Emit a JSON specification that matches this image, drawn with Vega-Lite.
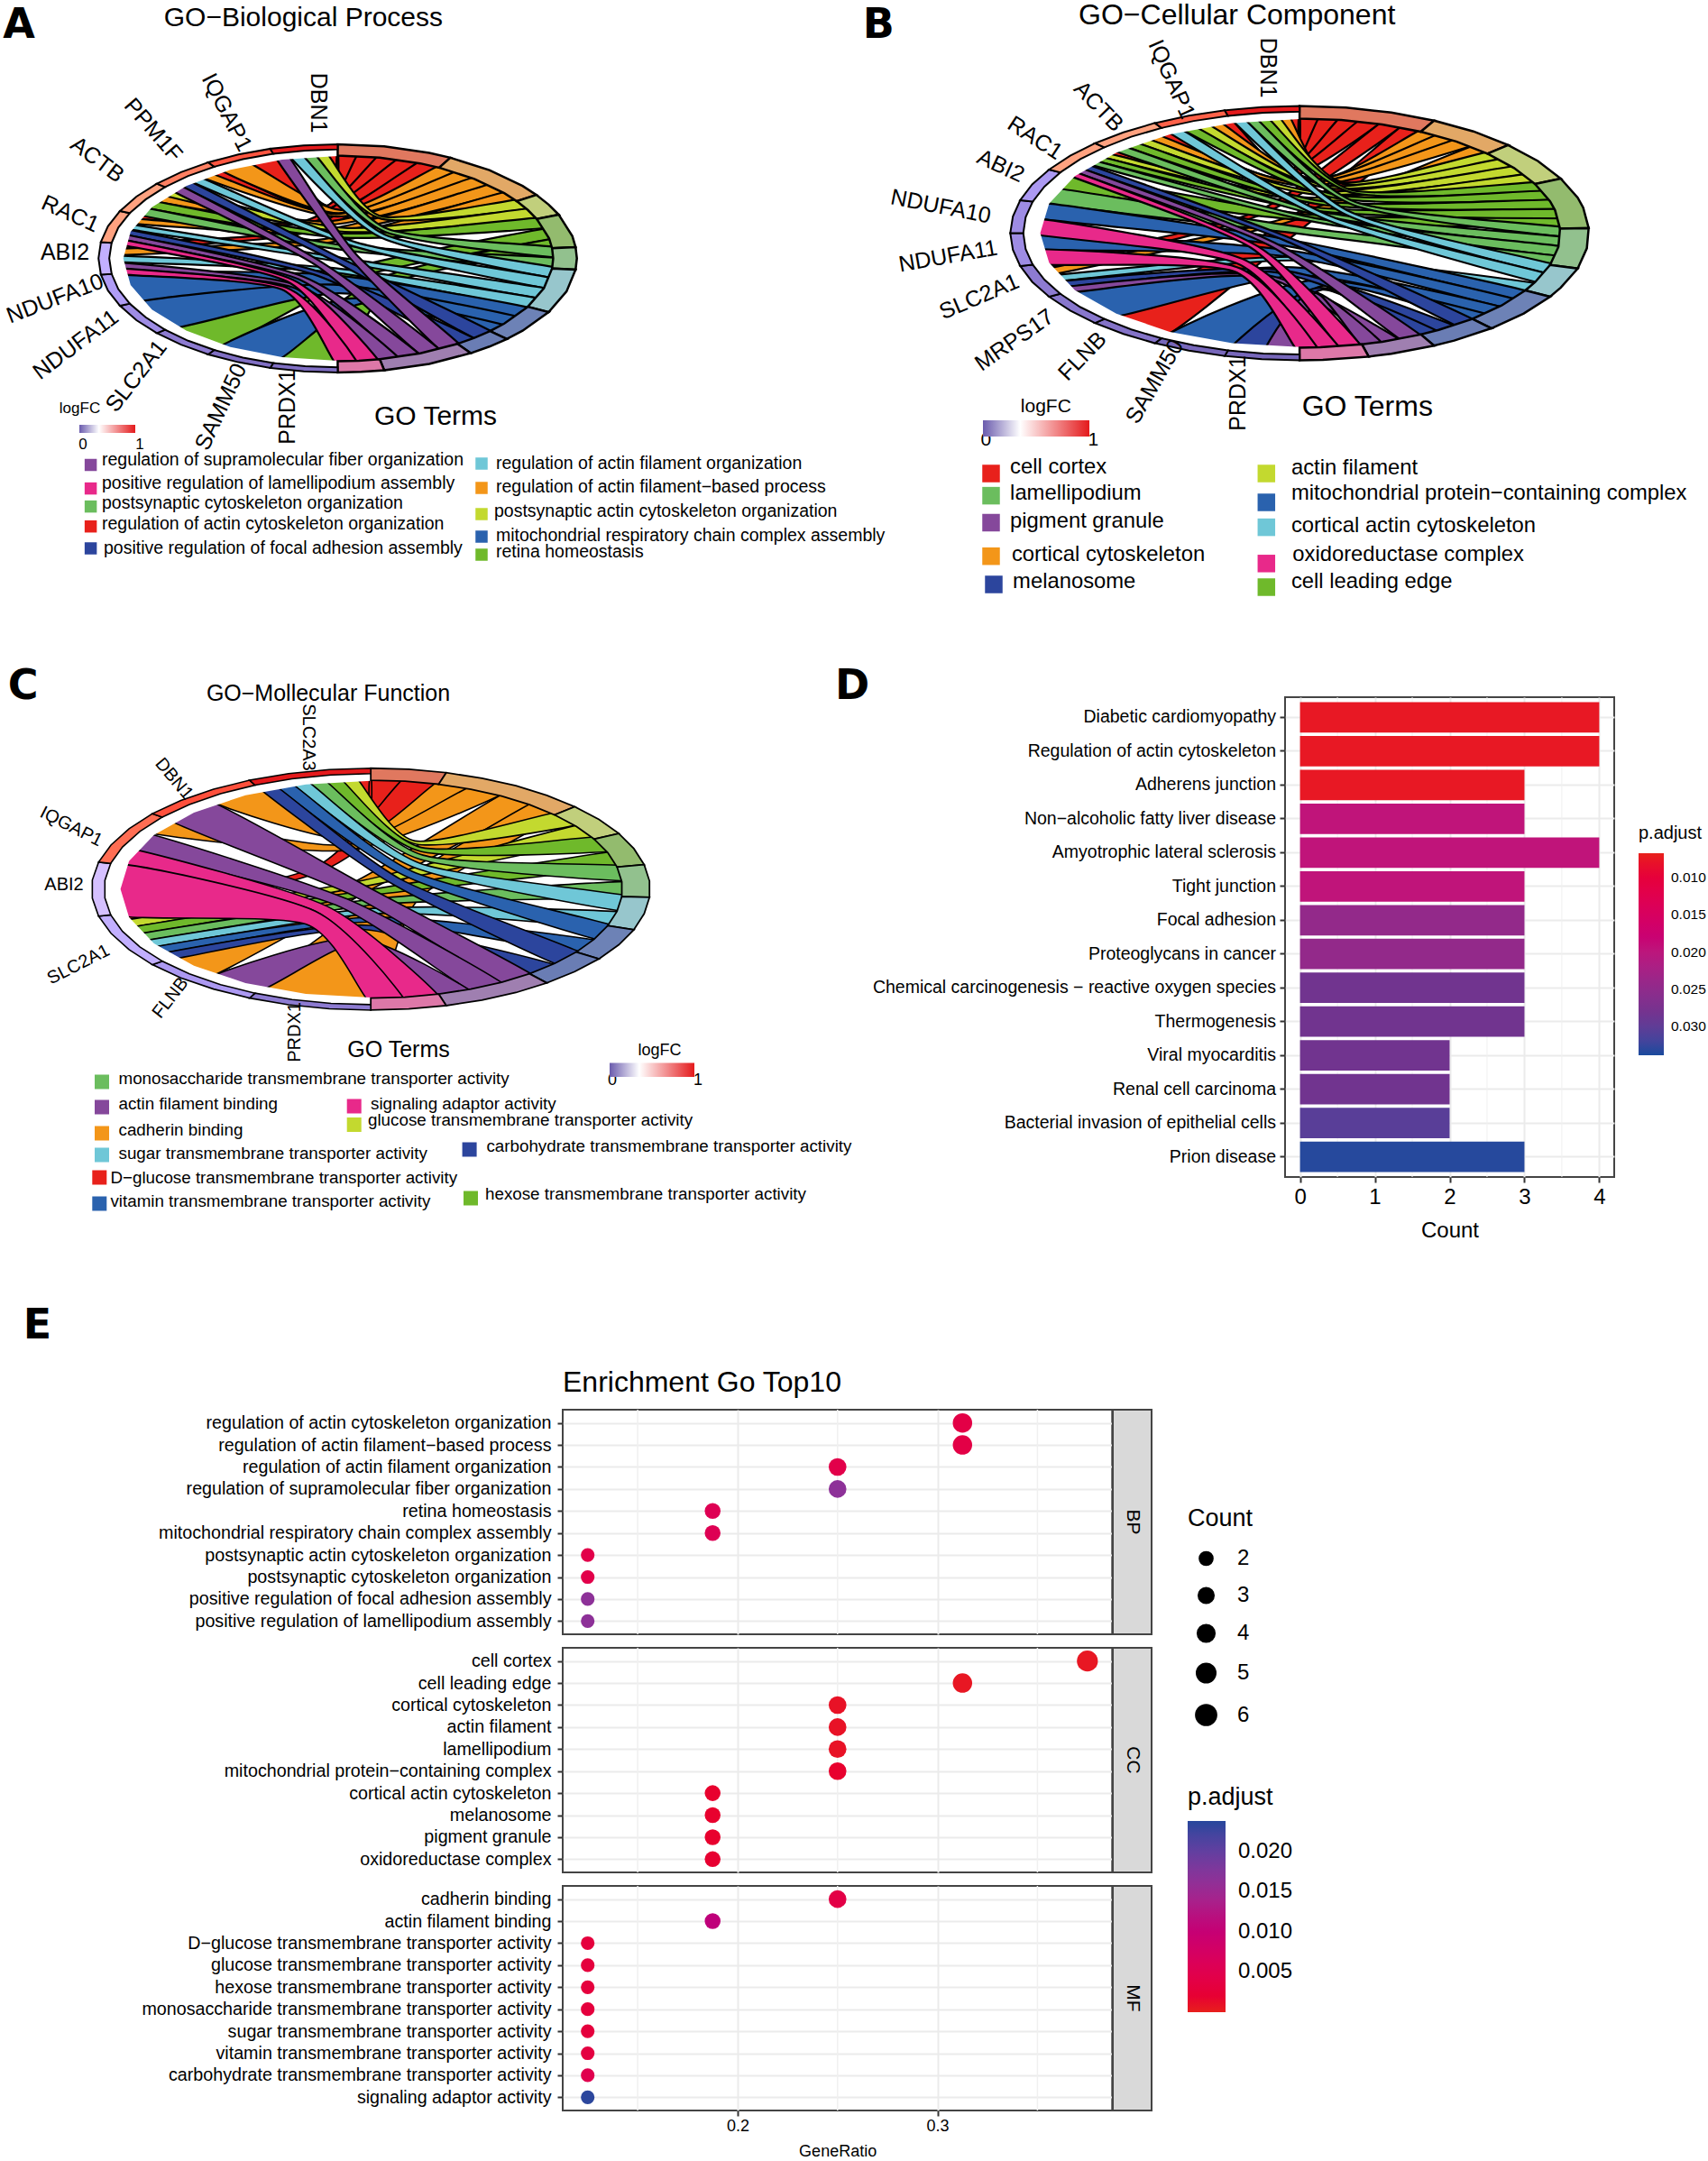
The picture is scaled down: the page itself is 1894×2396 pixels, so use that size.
{"$schema":"https://vega.github.io/schema/vega-lite/v6.json","padding":0,"config":{"view":{"stroke":null},"text":{"font":"Liberation Sans","color":"black"},"axis":{"labelFont":"Liberation Sans","titleFont":"Liberation Sans","labelColor":"black","titleColor":"black"},"legend":{"labelFont":"Liberation Sans","titleFont":"Liberation Sans","labelColor":"black","titleColor":"black"}},
"datasets":{"mask":[{"x":0,"y":-1.08},{"x":-0.28,"y":-1.043},{"x":-0.54,"y":-0.935},{"x":-0.764,"y":-0.764},{"x":-0.935,"y":-0.54},{"x":-1.043,"y":-0.28},{"x":-1.08,"y":0},{"x":-1.043,"y":0.28},{"x":-0.935,"y":0.54},{"x":-0.764,"y":0.764},{"x":-0.54,"y":0.935},{"x":-0.28,"y":1.043},{"x":0,"y":1.08},{"x":0,"y":0.995},{"x":-0.258,"y":0.961},{"x":-0.498,"y":0.862},{"x":-0.703,"y":0.703},{"x":-0.862,"y":0.498},{"x":-0.961,"y":0.258},{"x":-0.995,"y":0},{"x":-0.961,"y":-0.258},{"x":-0.862,"y":-0.498},{"x":-0.703,"y":-0.703},{"x":-0.498,"y":-0.862},{"x":-0.258,"y":-0.961},{"x":0,"y":-0.995}],
"outer":[{"x":0,"y":1.3},{"x":0.336,"y":1.256},{"x":0.65,"y":1.126},{"x":0.919,"y":0.919},{"x":1.126,"y":0.65},{"x":1.256,"y":0.336},{"x":1.3,"y":0},{"x":1.256,"y":-0.336},{"x":1.126,"y":-0.65},{"x":0.919,"y":-0.919},{"x":0.65,"y":-1.126},{"x":0.336,"y":-1.256},{"x":0,"y":-1.3},{"x":-0.336,"y":-1.256},{"x":-0.65,"y":-1.126},{"x":-0.919,"y":-0.919},{"x":-1.126,"y":-0.65},{"x":-1.256,"y":-0.336},{"x":-1.3,"y":0},{"x":-1.256,"y":0.336},{"x":-1.126,"y":0.65},{"x":-0.919,"y":0.919},{"x":-0.65,"y":1.126},{"x":-0.336,"y":1.256},{"x":0,"y":1.3},{"x":0,"y":1.1},{"x":-0.285,"y":1.063},{"x":-0.55,"y":0.953},{"x":-0.778,"y":0.778},{"x":-0.953,"y":0.55},{"x":-1.063,"y":0.285},{"x":-1.1,"y":0},{"x":-1.063,"y":-0.285},{"x":-0.953,"y":-0.55},{"x":-0.778,"y":-0.778},{"x":-0.55,"y":-0.953},{"x":-0.285,"y":-1.063},{"x":0,"y":-1.1},{"x":0.285,"y":-1.063},{"x":0.55,"y":-0.953},{"x":0.778,"y":-0.778},{"x":0.953,"y":-0.55},{"x":1.063,"y":-0.285},{"x":1.1,"y":0},{"x":1.063,"y":0.285},{"x":0.953,"y":0.55},{"x":0.778,"y":0.778},{"x":0.55,"y":0.953},{"x":0.285,"y":1.063},{"x":0,"y":1.1}],
"blank":[],
"enrich":[{"term":"regulation of actin cytoskeleton organization","cat":"BP","ratio":0.3125,"Count":5,"p":0.004},{"term":"regulation of actin filament−based process","cat":"BP","ratio":0.3125,"Count":5,"p":0.004},{"term":"regulation of actin filament organization","cat":"BP","ratio":0.25,"Count":4,"p":0.0045},{"term":"regulation of supramolecular fiber organization","cat":"BP","ratio":0.25,"Count":4,"p":0.0165},{"term":"retina homeostasis","cat":"BP","ratio":0.1875,"Count":3,"p":0.0055},{"term":"mitochondrial respiratory chain complex assembly","cat":"BP","ratio":0.1875,"Count":3,"p":0.0055},{"term":"postsynaptic actin cytoskeleton organization","cat":"BP","ratio":0.125,"Count":2,"p":0.0045},{"term":"postsynaptic cytoskeleton organization","cat":"BP","ratio":0.125,"Count":2,"p":0.0045},{"term":"positive regulation of focal adhesion assembly","cat":"BP","ratio":0.125,"Count":2,"p":0.0165},{"term":"positive regulation of lamellipodium assembly","cat":"BP","ratio":0.125,"Count":2,"p":0.0165},
{"term":"cell cortex","cat":"CC","ratio":0.375,"Count":6,"p":0.0005},{"term":"cell leading edge","cat":"CC","ratio":0.3125,"Count":5,"p":0.0005},{"term":"cortical cytoskeleton","cat":"CC","ratio":0.25,"Count":4,"p":0.0008},{"term":"actin filament","cat":"CC","ratio":0.25,"Count":4,"p":0.0008},{"term":"lamellipodium","cat":"CC","ratio":0.25,"Count":4,"p":0.0008},{"term":"mitochondrial protein−containing complex","cat":"CC","ratio":0.25,"Count":4,"p":0.0015},{"term":"cortical actin cytoskeleton","cat":"CC","ratio":0.1875,"Count":3,"p":0.0015},{"term":"melanosome","cat":"CC","ratio":0.1875,"Count":3,"p":0.0015},{"term":"pigment granule","cat":"CC","ratio":0.1875,"Count":3,"p":0.0015},{"term":"oxidoreductase complex","cat":"CC","ratio":0.1875,"Count":3,"p":0.0018},
{"term":"cadherin binding","cat":"MF","ratio":0.25,"Count":4,"p":0.004},{"term":"actin filament binding","cat":"MF","ratio":0.1875,"Count":3,"p":0.011},{"term":"D−glucose transmembrane transporter activity","cat":"MF","ratio":0.125,"Count":2,"p":0.003},{"term":"glucose transmembrane transporter activity","cat":"MF","ratio":0.125,"Count":2,"p":0.003},{"term":"hexose transmembrane transporter activity","cat":"MF","ratio":0.125,"Count":2,"p":0.003},{"term":"monosaccharide transmembrane transporter activity","cat":"MF","ratio":0.125,"Count":2,"p":0.003},{"term":"sugar transmembrane transporter activity","cat":"MF","ratio":0.125,"Count":2,"p":0.003},{"term":"vitamin transmembrane transporter activity","cat":"MF","ratio":0.125,"Count":2,"p":0.0035},{"term":"carbohydrate transmembrane transporter activity","cat":"MF","ratio":0.125,"Count":2,"p":0.005},{"term":"signaling adaptor activity","cat":"MF","ratio":0.125,"Count":2,"p":0.0235}]},
"bounds":"flush","align":"each","spacing":{"row":15,"column":0},"columns":5,"resolve":{"scale":{"color":"independent","fill":"independent","size":"independent"}},"concat":[
{"width":623.7,"height":757.5,"resolve":{"scale":{"x":"independent","y":"independent","fill":"independent"}},"encoding":{"x":{"field":"x","type":"quantitative","scale":{"domain":[0,623.7]},"axis":null},"y":{"field":"y","type":"quantitative","scale":{"domain":[757.5,0]},"axis":null}},"layer":[
{"data":{"values":[{"r":1,"t":"red","x":0,"y":1},{"r":1,"t":"red","x":0,"y":0.5},{"r":1,"t":"red","x":0,"y":1},{"r":1,"t":"red","x":0.098,"y":0.995},{"r":1,"t":"red","x":0.01,"y":0.498},{"r":1,"t":"red","x":-0.057,"y":0.998},
{"r":2,"t":"red","x":-0.282,"y":0.96},{"r":2,"t":"red","x":-0.046,"y":0.489},{"r":2,"t":"red","x":0.098,"y":0.995},{"r":2,"t":"red","x":0.195,"y":0.981},{"r":2,"t":"red","x":-0.055,"y":0.473},{"r":2,"t":"red","x":-0.415,"y":0.91},
{"r":3,"t":"red","x":-0.54,"y":0.841},{"r":3,"t":"red","x":-0.086,"y":0.456},{"r":3,"t":"red","x":0.195,"y":0.981},{"r":3,"t":"red","x":0.29,"y":0.957},{"r":3,"t":"red","x":-0.075,"y":0.442},{"r":3,"t":"red","x":-0.588,"y":0.809},
{"r":4,"t":"red","x":-0.91,"y":0.415},{"r":4,"t":"red","x":-0.155,"y":0.343},{"r":4,"t":"red","x":0.29,"y":0.957},{"r":4,"t":"red","x":0.383,"y":0.924},{"r":4,"t":"red","x":-0.136,"y":0.324},{"r":4,"t":"red","x":-0.928,"y":0.372},
{"r":5,"t":"red","x":-0.99,"y":0.142},{"r":5,"t":"red","x":-0.152,"y":0.267},{"r":5,"t":"red","x":0.383,"y":0.924},{"r":5,"t":"red","x":0.471,"y":0.882},{"r":5,"t":"red","x":-0.131,"y":0.242},{"r":5,"t":"red","x":-0.996,"y":0.086},
{"r":6,"t":"orange","x":-0.415,"y":0.91},{"r":6,"t":"orange","x":0.014,"y":0.448},{"r":6,"t":"orange","x":0.471,"y":0.882},{"r":6,"t":"orange","x":0.556,"y":0.831},{"r":6,"t":"orange","x":0.004,"y":0.418},{"r":6,"t":"orange","x":-0.54,"y":0.841},
{"r":7,"t":"orange","x":-0.588,"y":0.809},{"r":7,"t":"orange","x":-0.008,"y":0.41},{"r":7,"t":"orange","x":0.556,"y":0.831},{"r":7,"t":"orange","x":0.634,"y":0.773},{"r":7,"t":"orange","x":0,"y":0.387},{"r":7,"t":"orange","x":-0.633,"y":0.774},
{"r":8,"t":"orange","x":-0.8,"y":0.599},{"r":8,"t":"orange","x":-0.042,"y":0.343},{"r":8,"t":"orange","x":0.634,"y":0.773},{"r":8,"t":"orange","x":0.707,"y":0.707},{"r":8,"t":"orange","x":-0.034,"y":0.312},{"r":8,"t":"orange","x":-0.841,"y":0.54},
{"r":9,"t":"orange","x":-0.928,"y":0.372},{"r":9,"t":"orange","x":-0.055,"y":0.27},{"r":9,"t":"orange","x":0.707,"y":0.707},{"r":9,"t":"orange","x":0.773,"y":0.634},{"r":9,"t":"orange","x":-0.043,"y":0.24},{"r":9,"t":"orange","x":-0.945,"y":0.327},
{"r":10,"t":"orange","x":-0.996,"y":0.086},{"r":10,"t":"orange","x":-0.056,"y":0.18},{"r":10,"t":"orange","x":0.773,"y":0.634},{"r":10,"t":"orange","x":0.831,"y":0.556},{"r":10,"t":"orange","x":-0.042,"y":0.146},{"r":10,"t":"orange","x":-1,"y":0.029},
{"r":11,"t":"lime","x":-0.057,"y":0.998},{"r":11,"t":"lime","x":0.194,"y":0.389},{"r":11,"t":"lime","x":0.831,"y":0.556},{"r":11,"t":"lime","x":0.882,"y":0.471},{"r":11,"t":"lime","x":0.192,"y":0.366},{"r":11,"t":"lime","x":-0.114,"y":0.993},
{"r":12,"t":"lime","x":-0.756,"y":0.655},{"r":12,"t":"lime","x":0.032,"y":0.282},{"r":12,"t":"lime","x":0.882,"y":0.471},{"r":12,"t":"lime","x":0.924,"y":0.383},{"r":12,"t":"lime","x":0.031,"y":0.246},{"r":12,"t":"lime","x":-0.8,"y":0.599},
{"r":13,"t":"green","x":-0.841,"y":0.54},{"r":13,"t":"green","x":0.021,"y":0.231},{"r":13,"t":"green","x":0.924,"y":0.383},{"r":13,"t":"green","x":0.957,"y":0.29},{"r":13,"t":"green","x":0.02,"y":0.192},{"r":13,"t":"green","x":-0.878,"y":0.479},
{"r":14,"t":"green","x":-0.756,"y":-0.655},{"r":14,"t":"green","x":0.05,"y":-0.091},{"r":14,"t":"green","x":0.957,"y":0.29},{"r":14,"t":"green","x":0.981,"y":0.195},{"r":14,"t":"green","x":0.11,"y":-0.162},{"r":14,"t":"green","x":-0.54,"y":-0.841},
{"r":15,"t":"green","x":-0.282,"y":-0.96},{"r":15,"t":"green","x":0.175,"y":-0.191},{"r":15,"t":"green","x":0.981,"y":0.195},{"r":15,"t":"green","x":0.995,"y":0.098},{"r":15,"t":"green","x":0.249,"y":-0.226},{"r":15,"t":"green","x":0,"y":-1},
{"r":16,"t":"lgreen","x":-0.114,"y":0.993},{"r":16,"t":"lgreen","x":0.22,"y":0.273},{"r":16,"t":"lgreen","x":0.995,"y":0.098},{"r":16,"t":"lgreen","x":1,"y":0},{"r":16,"t":"lgreen","x":0.208,"y":0.246},{"r":16,"t":"lgreen","x":-0.17,"y":0.985},
{"r":17,"t":"lgreen","x":-0.878,"y":0.479},{"r":17,"t":"lgreen","x":0.031,"y":0.12},{"r":17,"t":"lgreen","x":1,"y":0},{"r":17,"t":"lgreen","x":0.995,"y":-0.098},{"r":17,"t":"lgreen","x":0.021,"y":0.079},{"r":17,"t":"lgreen","x":-0.91,"y":0.415},
{"r":18,"t":"cyan","x":-0.17,"y":0.985},{"r":18,"t":"cyan","x":0.206,"y":0.222},{"r":18,"t":"cyan","x":0.995,"y":-0.098},{"r":18,"t":"cyan","x":0.981,"y":-0.195},{"r":18,"t":"cyan","x":0.189,"y":0.195},{"r":18,"t":"cyan","x":-0.227,"y":0.974},
{"r":19,"t":"cyan","x":-0.633,"y":0.774},{"r":19,"t":"cyan","x":0.087,"y":0.145},{"r":19,"t":"cyan","x":0.981,"y":-0.195},{"r":19,"t":"cyan","x":0.957,"y":-0.29},{"r":19,"t":"cyan","x":0.07,"y":0.112},{"r":19,"t":"cyan","x":-0.676,"y":0.737},
{"r":20,"t":"cyan","x":-0.945,"y":0.327},{"r":20,"t":"cyan","x":0.003,"y":0.009},{"r":20,"t":"cyan","x":0.957,"y":-0.29},{"r":20,"t":"cyan","x":0.924,"y":-0.383},{"r":20,"t":"cyan","x":-0.009,"y":-0.025},{"r":20,"t":"cyan","x":-0.96,"y":0.282},
{"r":21,"t":"cyan","x":-1,"y":0.029},{"r":21,"t":"cyan","x":-0.019,"y":-0.089},{"r":21,"t":"cyan","x":0.924,"y":-0.383},{"r":21,"t":"cyan","x":0.882,"y":-0.471},{"r":21,"t":"cyan","x":-0.03,"y":-0.125},{"r":21,"t":"cyan","x":-1,"y":-0.029},
{"r":22,"t":"blue","x":-0.99,"y":-0.142},{"r":22,"t":"blue","x":-0.027,"y":-0.153},{"r":22,"t":"blue","x":0.882,"y":-0.471},{"r":22,"t":"blue","x":0.831,"y":-0.556},{"r":22,"t":"blue","x":-0.02,"y":-0.243},{"r":22,"t":"blue","x":-0.91,"y":-0.415},
{"r":23,"t":"blue","x":-0.91,"y":-0.415},{"r":23,"t":"blue","x":-0.02,"y":-0.243},{"r":23,"t":"blue","x":0.831,"y":-0.556},{"r":23,"t":"blue","x":0.773,"y":-0.634},{"r":23,"t":"blue","x":0.004,"y":-0.322},{"r":23,"t":"blue","x":-0.756,"y":-0.655},
{"r":24,"t":"blue","x":-0.54,"y":-0.841},{"r":24,"t":"blue","x":0.058,"y":-0.369},{"r":24,"t":"blue","x":0.773,"y":-0.634},{"r":24,"t":"blue","x":0.707,"y":-0.707},{"r":24,"t":"blue","x":0.106,"y":-0.417},{"r":24,"t":"blue","x":-0.282,"y":-0.96},
{"r":25,"t":"navy","x":-0.676,"y":0.737},{"r":25,"t":"navy","x":0.008,"y":0.008},{"r":25,"t":"navy","x":0.707,"y":-0.707},{"r":25,"t":"navy","x":0.634,"y":-0.773},{"r":25,"t":"navy","x":-0.021,"y":-0.019},{"r":25,"t":"navy","x":-0.717,"y":0.698},
{"r":26,"t":"navy","x":-0.96,"y":0.282},{"r":26,"t":"navy","x":-0.082,"y":-0.123},{"r":26,"t":"navy","x":0.634,"y":-0.773},{"r":26,"t":"navy","x":0.556,"y":-0.831},{"r":26,"t":"navy","x":-0.104,"y":-0.149},{"r":26,"t":"navy","x":-0.972,"y":0.236},
{"r":27,"t":"purple","x":-0.227,"y":0.974},{"r":27,"t":"purple","x":0.082,"y":0.036},{"r":27,"t":"purple","x":0.556,"y":-0.831},{"r":27,"t":"purple","x":0.471,"y":-0.882},{"r":27,"t":"purple","x":0.047,"y":0.02},{"r":27,"t":"purple","x":-0.282,"y":0.96},
{"r":28,"t":"purple","x":-0.717,"y":0.698},{"r":28,"t":"purple","x":-0.062,"y":-0.046},{"r":28,"t":"purple","x":0.471,"y":-0.882},{"r":28,"t":"purple","x":0.383,"y":-0.924},{"r":28,"t":"purple","x":-0.093,"y":-0.067},{"r":28,"t":"purple","x":-0.756,"y":0.655},
{"r":29,"t":"purple","x":-0.972,"y":0.236},{"r":29,"t":"purple","x":-0.147,"y":-0.172},{"r":29,"t":"purple","x":0.383,"y":-0.924},{"r":29,"t":"purple","x":0.29,"y":-0.957},{"r":29,"t":"purple","x":-0.173,"y":-0.192},{"r":29,"t":"purple","x":-0.982,"y":0.189},
{"r":30,"t":"purple","x":-1,"y":-0.029},{"r":30,"t":"purple","x":-0.178,"y":-0.247},{"r":30,"t":"purple","x":0.29,"y":-0.957},{"r":30,"t":"purple","x":0.195,"y":-0.981},{"r":30,"t":"purple","x":-0.2,"y":-0.267},{"r":30,"t":"purple","x":-0.996,"y":-0.086},
{"r":31,"t":"pink","x":-0.982,"y":0.189},{"r":31,"t":"pink","x":-0.197,"y":-0.198},{"r":31,"t":"pink","x":0.195,"y":-0.981},{"r":31,"t":"pink","x":0.098,"y":-0.995},{"r":31,"t":"pink","x":-0.223,"y":-0.213},{"r":31,"t":"pink","x":-0.99,"y":0.142},
{"r":32,"t":"pink","x":-0.996,"y":-0.086},{"r":32,"t":"pink","x":-0.225,"y":-0.27},{"r":32,"t":"pink","x":0.098,"y":-0.995},{"r":32,"t":"pink","x":0,"y":-1},{"r":32,"t":"pink","x":-0.248,"y":-0.286},{"r":32,"t":"pink","x":-0.99,"y":-0.142}]},
"mark":{"type":"line","interpolate":"cardinal-closed","tension":0.3,"stroke":"black","strokeWidth":2.2},"encoding":{"x":{"field":"x","type":"quantitative","scale":{"domain":[-1.488,0.99]},"axis":null},"y":{"field":"y","type":"quantitative","scale":{"domain":[-3.925,2.388]},"axis":null},"detail":{"field":"r"},"fill":{"field":"t","type":"nominal","scale":{"domain":["red","orange","lime","green","lgreen","cyan","blue","navy","purple","pink"],"range":["#e8211b","#f39619","#c3d92f","#6fb92b","#6bbd5e","#6fc7d7","#2a62ae","#2c459d","#85489b","#e8298a"]},"legend":null},"order":{"value":null}}},
{"data":{"name":"mask"},"mark":{"type":"line","interpolate":"linear-closed","fill":"white","strokeWidth":0},"encoding":{"x":{"field":"x","type":"quantitative","scale":{"domain":[-1.567,1.043]},"axis":null},"y":{"field":"y","type":"quantitative","scale":{"domain":[-4.132,2.513]},"axis":null},"order":{"value":null}}},
{"data":{"name":"outer"},"mark":{"type":"line","interpolate":"linear-closed","fill":"white","strokeWidth":0},"encoding":{"x":{"field":"x","type":"quantitative","scale":{"domain":[-1.567,1.043]},"axis":null},"y":{"field":"y","type":"quantitative","scale":{"domain":[-4.132,2.513]},"axis":null},"order":{"value":null}}},
{"data":{"values":[{"t":"red","x":0,"y":1},{"t":"red","x":0.195,"y":0.981},{"t":"red","x":0.383,"y":0.924},{"t":"red","x":0.471,"y":0.882},{"t":"red","x":0.523,"y":0.979},{"t":"red","x":0.425,"y":1.026},{"t":"red","x":0.216,"y":1.089},{"t":"red","x":0,"y":1.11},
{"t":"orange","x":0.471,"y":0.882},{"t":"orange","x":0.634,"y":0.773},{"t":"orange","x":0.773,"y":0.634},{"t":"orange","x":0.831,"y":0.556},{"t":"orange","x":0.922,"y":0.617},{"t":"orange","x":0.858,"y":0.704},{"t":"orange","x":0.704,"y":0.858},{"t":"orange","x":0.523,"y":0.979},
{"t":"lime","x":0.831,"y":0.556},{"t":"lime","x":0.882,"y":0.471},{"t":"lime","x":0.924,"y":0.383},{"t":"lime","x":1.026,"y":0.425},{"t":"lime","x":0.979,"y":0.523},{"t":"lime","x":0.922,"y":0.617},
{"t":"green","x":0.924,"y":0.383},{"t":"green","x":0.981,"y":0.195},{"t":"green","x":0.995,"y":0.098},{"t":"green","x":1.104,"y":0.109},{"t":"green","x":1.089,"y":0.216},{"t":"green","x":1.026,"y":0.425},
{"t":"lgreen","x":0.995,"y":0.098},{"t":"lgreen","x":1,"y":0},{"t":"lgreen","x":0.995,"y":-0.098},{"t":"lgreen","x":1.104,"y":-0.109},{"t":"lgreen","x":1.11,"y":0},{"t":"lgreen","x":1.104,"y":0.109},
{"t":"cyan","x":0.995,"y":-0.098},{"t":"cyan","x":0.957,"y":-0.29},{"t":"cyan","x":0.882,"y":-0.471},{"t":"cyan","x":0.979,"y":-0.523},{"t":"cyan","x":1.062,"y":-0.322},{"t":"cyan","x":1.104,"y":-0.109},
{"t":"blue","x":0.882,"y":-0.471},{"t":"blue","x":0.773,"y":-0.634},{"t":"blue","x":0.707,"y":-0.707},{"t":"blue","x":0.785,"y":-0.785},{"t":"blue","x":0.858,"y":-0.704},{"t":"blue","x":0.979,"y":-0.523},
{"t":"navy","x":0.707,"y":-0.707},{"t":"navy","x":0.634,"y":-0.773},{"t":"navy","x":0.556,"y":-0.831},{"t":"navy","x":0.617,"y":-0.922},{"t":"navy","x":0.704,"y":-0.858},{"t":"navy","x":0.785,"y":-0.785},
{"t":"purple","x":0.556,"y":-0.831},{"t":"purple","x":0.383,"y":-0.924},{"t":"purple","x":0.195,"y":-0.981},{"t":"purple","x":0.216,"y":-1.089},{"t":"purple","x":0.425,"y":-1.026},{"t":"purple","x":0.617,"y":-0.922},
{"t":"pink","x":0.195,"y":-0.981},{"t":"pink","x":0.098,"y":-0.995},{"t":"pink","x":0,"y":-1},{"t":"pink","x":0,"y":-1.11},{"t":"pink","x":0.109,"y":-1.104},{"t":"pink","x":0.216,"y":-1.089}]},
"mark":{"type":"line","interpolate":"linear-closed","stroke":"black","strokeWidth":2.5},"encoding":{"x":{"field":"x","type":"quantitative","scale":{"domain":[-1.567,1.043]},"axis":null},"y":{"field":"y","type":"quantitative","scale":{"domain":[-4.132,2.513]},"axis":null},"fill":{"field":"t","type":"nominal","scale":{"domain":["red","orange","lime","green","lgreen","cyan","blue","navy","purple","pink"],"range":["#e0785f","#e2a866","#c1cf7c","#93bb6e","#92c18e","#97c6cc","#6d82b6","#6a7db4","#9f7fb0","#dd78a8"]},"legend":null},"order":{"value":null}}},
{"data":{"values":[{"g":"PRDX1","l":0.05,"x":0,"y":-1.06},{"g":"PRDX1","l":0.05,"x":-0.151,"y":-1.049},{"g":"PRDX1","l":0.05,"x":-0.299,"y":-1.018},{"g":"PRDX1","l":0.05,"x":-0.313,"y":-1.066},{"g":"PRDX1","l":0.05,"x":-0.158,"y":-1.099},{"g":"PRDX1","l":0.05,"x":0,"y":-1.11},
{"g":"SAMM50","l":0.05,"x":-0.299,"y":-1.018},{"g":"SAMM50","l":0.05,"x":-0.44,"y":-0.965},{"g":"SAMM50","l":0.05,"x":-0.573,"y":-0.891},{"g":"SAMM50","l":0.05,"x":-0.601,"y":-0.934},{"g":"SAMM50","l":0.05,"x":-0.461,"y":-1.01},{"g":"SAMM50","l":0.05,"x":-0.313,"y":-1.066},
{"g":"SLC2A1","l":0.08,"x":-0.573,"y":-0.891},{"g":"SLC2A1","l":0.08,"x":-0.694,"y":-0.801},{"g":"SLC2A1","l":0.08,"x":-0.801,"y":-0.694},{"g":"SLC2A1","l":0.08,"x":-0.839,"y":-0.727},{"g":"SLC2A1","l":0.08,"x":-0.727,"y":-0.839},{"g":"SLC2A1","l":0.08,"x":-0.601,"y":-0.934},
{"g":"NDUFA11","l":0.12,"x":-0.801,"y":-0.694},{"g":"NDUFA11","l":0.12,"x":-0.891,"y":-0.573},{"g":"NDUFA11","l":0.12,"x":-0.965,"y":-0.44},{"g":"NDUFA11","l":0.12,"x":-1.01,"y":-0.461},{"g":"NDUFA11","l":0.12,"x":-0.934,"y":-0.601},{"g":"NDUFA11","l":0.12,"x":-0.839,"y":-0.727},
{"g":"NDUFA10","l":0.16,"x":-0.965,"y":-0.44},{"g":"NDUFA10","l":0.16,"x":-1.018,"y":-0.299},{"g":"NDUFA10","l":0.16,"x":-1.049,"y":-0.151},{"g":"NDUFA10","l":0.16,"x":-1.099,"y":-0.158},{"g":"NDUFA10","l":0.16,"x":-1.066,"y":-0.313},{"g":"NDUFA10","l":0.16,"x":-1.01,"y":-0.461},
{"g":"ABI2","l":0.2,"x":-1.049,"y":-0.151},{"g":"ABI2","l":0.2,"x":-1.06,"y":0},{"g":"ABI2","l":0.2,"x":-1.049,"y":0.151},{"g":"ABI2","l":0.2,"x":-1.099,"y":0.158},{"g":"ABI2","l":0.2,"x":-1.11,"y":0},{"g":"ABI2","l":0.2,"x":-1.099,"y":-0.158},
{"g":"RAC1","l":0.47,"x":-1.049,"y":0.151},{"g":"RAC1","l":0.47,"x":-1.018,"y":0.299},{"g":"RAC1","l":0.47,"x":-0.965,"y":0.44},{"g":"RAC1","l":0.47,"x":-1.01,"y":0.461},{"g":"RAC1","l":0.47,"x":-1.066,"y":0.313},{"g":"RAC1","l":0.47,"x":-1.099,"y":0.158},
{"g":"ACTB","l":0.47,"x":-0.965,"y":0.44},{"g":"ACTB","l":0.47,"x":-0.891,"y":0.573},{"g":"ACTB","l":0.47,"x":-0.801,"y":0.694},{"g":"ACTB","l":0.47,"x":-0.839,"y":0.727},{"g":"ACTB","l":0.47,"x":-0.934,"y":0.601},{"g":"ACTB","l":0.47,"x":-1.01,"y":0.461},
{"g":"PPM1F","l":0.62,"x":-0.801,"y":0.694},{"g":"PPM1F","l":0.62,"x":-0.694,"y":0.801},{"g":"PPM1F","l":0.62,"x":-0.573,"y":0.891},{"g":"PPM1F","l":0.62,"x":-0.601,"y":0.934},{"g":"PPM1F","l":0.62,"x":-0.727,"y":0.839},{"g":"PPM1F","l":0.62,"x":-0.839,"y":0.727},
{"g":"IQGAP1","l":0.8,"x":-0.573,"y":0.891},{"g":"IQGAP1","l":0.8,"x":-0.44,"y":0.965},{"g":"IQGAP1","l":0.8,"x":-0.299,"y":1.018},{"g":"IQGAP1","l":0.8,"x":-0.313,"y":1.066},{"g":"IQGAP1","l":0.8,"x":-0.461,"y":1.01},{"g":"IQGAP1","l":0.8,"x":-0.601,"y":0.934},
{"g":"DBN1","l":1,"x":-0.299,"y":1.018},{"g":"DBN1","l":1,"x":-0.151,"y":1.049},{"g":"DBN1","l":1,"x":0,"y":1.06},{"g":"DBN1","l":1,"x":0,"y":1.11},{"g":"DBN1","l":1,"x":-0.158,"y":1.099},{"g":"DBN1","l":1,"x":-0.313,"y":1.066}]},
"mark":{"type":"line","interpolate":"linear-closed","stroke":"black","strokeWidth":2},"encoding":{"x":{"field":"x","type":"quantitative","scale":{"domain":[-1.567,1.043]},"axis":null},"y":{"field":"y","type":"quantitative","scale":{"domain":[-4.132,2.513]},"axis":null},"detail":{"field":"g"},"fill":{"field":"l","type":"quantitative","scale":{"domain":[0,0.35,1],"range":["#6a5bad","#ffffff","#e41a1c"]},"legend":null},"order":{"value":null}}},
{"data":{"values":[{"x":100.6,"y":515.5,"t":"purple"},{"x":100.6,"y":541.6,"t":"pink"},{"x":100.6,"y":561.6,"t":"lgreen"},{"x":100.6,"y":583.7,"t":"red"},{"x":100.6,"y":608,"t":"navy"},{"x":534,"y":514,"t":"cyan"},{"x":534,"y":541,"t":"orange"},{"x":534,"y":570,"t":"lime"},{"x":534,"y":595,"t":"blue"},{"x":534,"y":615,"t":"green"}]},
"mark":{"type":"point","shape":"square","filled":true,"size":182,"opacity":1},"encoding":{"fill":{"field":"t","type":"nominal","scale":{"domain":["red","orange","lime","green","lgreen","cyan","blue","navy","purple","pink"],"range":["#e8211b","#f39619","#c3d92f","#6fb92b","#6bbd5e","#6fc7d7","#2a62ae","#2c459d","#85489b","#e8298a"]},"legend":null}}},
{"data":{"values":[{"label":"regulation of supramolecular fiber organization","x":113,"y":510},{"label":"positive regulation of lamellipodium assembly","x":113,"y":536},{"label":"postsynaptic cytoskeleton organization","x":113,"y":557.6},{"label":"regulation of actin cytoskeleton organization","x":113,"y":581},{"label":"positive regulation of focal adhesion assembly","x":115,"y":608},{"label":"regulation of actin filament organization","x":550,"y":514},{"label":"regulation of actin filament−based process","x":550,"y":540},{"label":"postsynaptic actin cytoskeleton organization","x":548,"y":567},{"label":"mitochondrial respiratory chain complex assembly","x":550,"y":594},{"label":"retina homeostasis","x":550,"y":612}]},"mark":{"type":"text","align":"left","baseline":"middle","fontSize":19.5},"encoding":{"text":{"field":"label"}}},
{"data":{"values":[{"label":"DBN1","x":353,"y":114,"a":90},{"label":"IQGAP1","x":251.5,"y":124.5,"a":63},{"label":"PPM1F","x":170,"y":144,"a":49},{"label":"ACTB","x":108,"y":177,"a":37},{"label":"RAC1","x":78,"y":237,"a":24},{"label":"ABI2","x":72,"y":280,"a":0},{"label":"NDUFA10","x":61,"y":331,"a":-21},{"label":"NDUFA11","x":84,"y":382,"a":-37},{"label":"SLC2A1","x":151,"y":417,"a":-52},{"label":"SAMM50","x":245,"y":451,"a":-65},{"label":"PRDX1","x":319,"y":451,"a":-90}]},"mark":{"type":"text","align":"center","baseline":"middle","fontSize":25},"encoding":{"text":{"field":"label"},"angle":{"field":"a","type":"quantitative","scale":null}}},
{"data":{"values":[{"label":"GO−Biological Process","x":336.4,"y":19.6},{"label":"GO Terms","x":483,"y":462.4}]},"mark":{"type":"text","align":"center","baseline":"middle","fontSize":30},"encoding":{"text":{"field":"label"}}},
{"data":{"values":[{"label":"A","x":21,"y":28}]},"mark":{"type":"text","align":"center","baseline":"middle","fontSize":46,"fontWeight":"bold","font":"DejaVu Sans"},"encoding":{"text":{"field":"label"}}},
{"data":{"values":[{"label":"logFC","x":88.5,"y":453},{"label":"0","x":92,"y":493},{"label":"1","x":155,"y":493}]},"mark":{"type":"text","align":"center","baseline":"middle","fontSize":17},"encoding":{"text":{"field":"label"}}},
{"data":{"values":[{"x":88,"x2":150,"y":471,"y2":480}]},"mark":{"type":"rect","color":{"gradient":"linear","x1":0,"y1":0,"x2":1,"y2":0,"stops":[{"offset":0,"color":"#6a5bad"},{"offset":0.35,"color":"#ffffff"},{"offset":1,"color":"#e41a1c"}]}},"encoding":{"x2":{"field":"x2"},"y2":{"field":"y2"}}}
]},
{"width":609.3,"height":757.5,"resolve":{"scale":{"x":"independent","y":"independent","fill":"independent"}},"encoding":{"x":{"field":"x","type":"quantitative","scale":{"domain":[623.7,1233]},"axis":null},"y":{"field":"y","type":"quantitative","scale":{"domain":[757.5,0]},"axis":null}},"layer":[
{"data":{"values":[{"r":1,"t":"red","x":0,"y":1},{"r":1,"t":"red","x":0,"y":0.5},{"r":1,"t":"red","x":0,"y":1},{"r":1,"t":"red","x":0.08,"y":0.997},{"r":1,"t":"red","x":0.009,"y":0.499},{"r":1,"t":"red","x":-0.044,"y":0.999},
{"r":2,"t":"red","x":-0.259,"y":0.966},{"r":2,"t":"red","x":-0.045,"y":0.491},{"r":2,"t":"red","x":0.08,"y":0.997},{"r":2,"t":"red","x":0.16,"y":0.987},{"r":2,"t":"red","x":-0.037,"y":0.485},{"r":2,"t":"red","x":-0.309,"y":0.951},
{"r":3,"t":"red","x":-0.5,"y":0.866},{"r":3,"t":"red","x":-0.085,"y":0.463},{"r":3,"t":"red","x":0.16,"y":0.987},{"r":3,"t":"red","x":0.239,"y":0.971},{"r":3,"t":"red","x":-0.077,"y":0.453},{"r":3,"t":"red","x":-0.545,"y":0.839},
{"r":4,"t":"red","x":-0.707,"y":0.707},{"r":4,"t":"red","x":-0.117,"y":0.42},{"r":4,"t":"red","x":0.239,"y":0.971},{"r":4,"t":"red","x":0.317,"y":0.949},{"r":4,"t":"red","x":-0.104,"y":0.407},{"r":4,"t":"red","x":-0.733,"y":0.68},
{"r":5,"t":"red","x":-0.966,"y":-0.259},{"r":5,"t":"red","x":-0.162,"y":0.173},{"r":5,"t":"red","x":0.317,"y":0.949},{"r":5,"t":"red","x":0.392,"y":0.92},{"r":5,"t":"red","x":-0.14,"y":0.153},{"r":5,"t":"red","x":-0.951,"y":-0.309},
{"r":6,"t":"red","x":-0.707,"y":-0.707},{"r":6,"t":"red","x":-0.079,"y":0.053},{"r":6,"t":"red","x":0.392,"y":0.92},{"r":6,"t":"red","x":0.465,"y":0.885},{"r":6,"t":"red","x":-0.009,"y":0.005},{"r":6,"t":"red","x":-0.5,"y":-0.866},
{"r":7,"t":"orange","x":-0.044,"y":0.999},{"r":7,"t":"orange","x":0.105,"y":0.471},{"r":7,"t":"orange","x":0.465,"y":0.885},{"r":7,"t":"orange","x":0.534,"y":0.845},{"r":7,"t":"orange","x":0.112,"y":0.46},{"r":7,"t":"orange","x":-0.087,"y":0.996},
{"r":8,"t":"orange","x":-0.309,"y":0.951},{"r":8,"t":"orange","x":0.056,"y":0.449},{"r":8,"t":"orange","x":0.534,"y":0.845},{"r":8,"t":"orange","x":0.601,"y":0.8},{"r":8,"t":"orange","x":0.061,"y":0.434},{"r":8,"t":"orange","x":-0.358,"y":0.934},
{"r":9,"t":"orange","x":-0.545,"y":0.839},{"r":9,"t":"orange","x":0.014,"y":0.41},{"r":9,"t":"orange","x":0.601,"y":0.8},{"r":9,"t":"orange","x":0.663,"y":0.749},{"r":9,"t":"orange","x":0.019,"y":0.39},{"r":9,"t":"orange","x":-0.588,"y":0.809},
{"r":10,"t":"orange","x":-0.951,"y":-0.309},{"r":10,"t":"orange","x":-0.072,"y":0.11},{"r":10,"t":"orange","x":0.663,"y":0.749},{"r":10,"t":"orange","x":0.721,"y":0.693},{"r":10,"t":"orange","x":-0.053,"y":0.084},{"r":10,"t":"orange","x":-0.934,"y":-0.358},
{"r":11,"t":"lime","x":-0.087,"y":0.996},{"r":11,"t":"lime","x":0.159,"y":0.422},{"r":11,"t":"lime","x":0.721,"y":0.693},{"r":11,"t":"lime","x":0.775,"y":0.632},{"r":11,"t":"lime","x":0.161,"y":0.406},{"r":11,"t":"lime","x":-0.131,"y":0.991},
{"r":12,"t":"lime","x":-0.358,"y":0.934},{"r":12,"t":"lime","x":0.104,"y":0.392},{"r":12,"t":"lime","x":0.775,"y":0.632},{"r":12,"t":"lime","x":0.823,"y":0.568},{"r":12,"t":"lime","x":0.104,"y":0.371},{"r":12,"t":"lime","x":-0.407,"y":0.914},
{"r":13,"t":"lime","x":-0.588,"y":0.809},{"r":13,"t":"lime","x":0.059,"y":0.344},{"r":13,"t":"lime","x":0.823,"y":0.568},{"r":13,"t":"lime","x":0.866,"y":0.5},{"r":13,"t":"lime","x":0.059,"y":0.319},{"r":13,"t":"lime","x":-0.629,"y":0.777},
{"r":14,"t":"lime","x":-0.733,"y":0.68},{"r":14,"t":"lime","x":0.033,"y":0.295},{"r":14,"t":"lime","x":0.866,"y":0.5},{"r":14,"t":"lime","x":0.903,"y":0.429},{"r":14,"t":"lime","x":0.036,"y":0.27},{"r":14,"t":"lime","x":-0.758,"y":0.652},
{"r":15,"t":"green","x":-0.131,"y":0.991},{"r":15,"t":"green","x":0.193,"y":0.355},{"r":15,"t":"green","x":0.903,"y":0.429},{"r":15,"t":"green","x":0.935,"y":0.355},{"r":15,"t":"green","x":0.19,"y":0.335},{"r":15,"t":"green","x":-0.174,"y":0.985},
{"r":16,"t":"green","x":-0.407,"y":0.914},{"r":16,"t":"green","x":0.132,"y":0.317},{"r":16,"t":"green","x":0.935,"y":0.355},{"r":16,"t":"green","x":0.961,"y":0.278},{"r":16,"t":"green","x":0.127,"y":0.292},{"r":16,"t":"green","x":-0.454,"y":0.891},
{"r":17,"t":"green","x":-0.629,"y":0.777},{"r":17,"t":"green","x":0.083,"y":0.264},{"r":17,"t":"green","x":0.961,"y":0.278},{"r":17,"t":"green","x":0.98,"y":0.2},{"r":17,"t":"green","x":0.078,"y":0.236},{"r":17,"t":"green","x":-0.669,"y":0.743},
{"r":18,"t":"green","x":-0.758,"y":0.652},{"r":18,"t":"green","x":0.056,"y":0.213},{"r":18,"t":"green","x":0.98,"y":0.2},{"r":18,"t":"green","x":0.993,"y":0.12},{"r":18,"t":"green","x":0.053,"y":0.186},{"r":18,"t":"green","x":-0.782,"y":0.623},
{"r":19,"t":"green","x":-0.866,"y":0.5},{"r":19,"t":"green","x":0.032,"y":0.155},{"r":19,"t":"green","x":0.993,"y":0.12},{"r":19,"t":"green","x":0.999,"y":0.04},{"r":19,"t":"green","x":0.019,"y":0.106},{"r":19,"t":"green","x":-0.924,"y":0.383},
{"r":20,"t":"lgreen","x":-0.174,"y":0.985},{"r":20,"t":"lgreen","x":0.206,"y":0.256},{"r":20,"t":"lgreen","x":0.999,"y":0.04},{"r":20,"t":"lgreen","x":0.999,"y":-0.04},{"r":20,"t":"lgreen","x":0.196,"y":0.234},{"r":20,"t":"lgreen","x":-0.216,"y":0.976},
{"r":21,"t":"lgreen","x":-0.669,"y":0.743},{"r":21,"t":"lgreen","x":0.083,"y":0.176},{"r":21,"t":"lgreen","x":0.999,"y":-0.04},{"r":21,"t":"lgreen","x":0.993,"y":-0.12},{"r":21,"t":"lgreen","x":0.072,"y":0.147},{"r":21,"t":"lgreen","x":-0.707,"y":0.707},
{"r":22,"t":"lgreen","x":-0.782,"y":0.623},{"r":22,"t":"lgreen","x":0.053,"y":0.126},{"r":22,"t":"lgreen","x":0.993,"y":-0.12},{"r":22,"t":"lgreen","x":0.98,"y":-0.2},{"r":22,"t":"lgreen","x":0.044,"y":0.098},{"r":22,"t":"lgreen","x":-0.804,"y":0.593},
{"r":23,"t":"lgreen","x":-0.924,"y":0.383},{"r":23,"t":"lgreen","x":0.014,"y":0.046},{"r":23,"t":"lgreen","x":0.98,"y":-0.2},{"r":23,"t":"lgreen","x":0.961,"y":-0.278},{"r":23,"t":"lgreen","x":-0.001,"y":-0.005},{"r":23,"t":"lgreen","x":-0.966,"y":0.259},
{"r":24,"t":"cyan","x":-0.216,"y":0.976},{"r":24,"t":"cyan","x":0.186,"y":0.175},{"r":24,"t":"cyan","x":0.961,"y":-0.278},{"r":24,"t":"cyan","x":0.935,"y":-0.355},{"r":24,"t":"cyan","x":0.169,"y":0.153},{"r":24,"t":"cyan","x":-0.259,"y":0.966},
{"r":25,"t":"cyan","x":-0.454,"y":0.891},{"r":25,"t":"cyan","x":0.12,"y":0.134},{"r":25,"t":"cyan","x":0.935,"y":-0.355},{"r":25,"t":"cyan","x":0.903,"y":-0.429},{"r":25,"t":"cyan","x":0.101,"y":0.109},{"r":25,"t":"cyan","x":-0.5,"y":0.866},
{"r":26,"t":"cyan","x":-0.934,"y":-0.358},{"r":26,"t":"cyan","x":-0.008,"y":-0.197},{"r":26,"t":"cyan","x":0.903,"y":-0.429},{"r":26,"t":"cyan","x":0.866,"y":-0.5},{"r":26,"t":"cyan","x":-0.012,"y":-0.227},{"r":26,"t":"cyan","x":-0.914,"y":-0.407},
{"r":27,"t":"blue","x":-0.966,"y":0.259},{"r":27,"t":"blue","x":-0.025,"y":-0.06},{"r":27,"t":"blue","x":0.866,"y":-0.5},{"r":27,"t":"blue","x":0.823,"y":-0.568},{"r":27,"t":"blue","x":-0.042,"y":-0.109},{"r":27,"t":"blue","x":-0.991,"y":0.131},
{"r":28,"t":"blue","x":-1,"y":0},{"r":28,"t":"blue","x":-0.044,"y":-0.142},{"r":28,"t":"blue","x":0.823,"y":-0.568},{"r":28,"t":"blue","x":0.775,"y":-0.632},{"r":28,"t":"blue","x":-0.054,"y":-0.191},{"r":28,"t":"blue","x":-0.991,"y":-0.131},
{"r":29,"t":"blue","x":-0.866,"y":-0.5},{"r":29,"t":"blue","x":-0.023,"y":-0.283},{"r":29,"t":"blue","x":0.775,"y":-0.632},{"r":29,"t":"blue","x":0.721,"y":-0.693},{"r":29,"t":"blue","x":0.004,"y":-0.35},{"r":29,"t":"blue","x":-0.707,"y":-0.707},
{"r":30,"t":"blue","x":-0.5,"y":-0.866},{"r":30,"t":"blue","x":0.055,"y":-0.39},{"r":30,"t":"blue","x":0.721,"y":-0.693},{"r":30,"t":"blue","x":0.663,"y":-0.749},{"r":30,"t":"blue","x":0.101,"y":-0.429},{"r":30,"t":"blue","x":-0.259,"y":-0.966},
{"r":31,"t":"navy","x":-0.804,"y":0.593},{"r":31,"t":"navy","x":-0.035,"y":-0.039},{"r":31,"t":"navy","x":0.663,"y":-0.749},{"r":31,"t":"navy","x":0.601,"y":-0.8},{"r":31,"t":"navy","x":-0.056,"y":-0.059},{"r":31,"t":"navy","x":-0.826,"y":0.563},
{"r":32,"t":"navy","x":-0.914,"y":-0.407},{"r":32,"t":"navy","x":-0.078,"y":-0.302},{"r":32,"t":"navy","x":0.601,"y":-0.8},{"r":32,"t":"navy","x":0.534,"y":-0.845},{"r":32,"t":"navy","x":-0.089,"y":-0.325},{"r":32,"t":"navy","x":-0.891,"y":-0.454},
{"r":33,"t":"navy","x":-0.259,"y":-0.966},{"r":33,"t":"navy","x":0.069,"y":-0.453},{"r":33,"t":"navy","x":0.534,"y":-0.845},{"r":33,"t":"navy","x":0.465,"y":-0.885},{"r":33,"t":"navy","x":0.084,"y":-0.469},{"r":33,"t":"navy","x":-0.131,"y":-0.991},
{"r":34,"t":"purple","x":-0.826,"y":0.563},{"r":34,"t":"purple","x":-0.09,"y":-0.081},{"r":34,"t":"purple","x":0.465,"y":-0.885},{"r":34,"t":"purple","x":0.392,"y":-0.92},{"r":34,"t":"purple","x":-0.114,"y":-0.097},{"r":34,"t":"purple","x":-0.847,"y":0.532},
{"r":35,"t":"purple","x":-0.891,"y":-0.454},{"r":35,"t":"purple","x":-0.125,"y":-0.344},{"r":35,"t":"purple","x":0.392,"y":-0.92},{"r":35,"t":"purple","x":0.317,"y":-0.949},{"r":35,"t":"purple","x":-0.137,"y":-0.362},{"r":35,"t":"purple","x":-0.866,"y":-0.5},
{"r":36,"t":"purple","x":-0.131,"y":-0.991},{"r":36,"t":"purple","x":0.047,"y":-0.485},{"r":36,"t":"purple","x":0.317,"y":-0.949},{"r":36,"t":"purple","x":0.239,"y":-0.971},{"r":36,"t":"purple","x":0.06,"y":-0.493},{"r":36,"t":"purple","x":0,"y":-1},
{"r":37,"t":"pink","x":-0.847,"y":0.532},{"r":37,"t":"pink","x":-0.152,"y":-0.11},{"r":37,"t":"pink","x":0.239,"y":-0.971},{"r":37,"t":"pink","x":0.16,"y":-0.987},{"r":37,"t":"pink","x":-0.177,"y":-0.122},{"r":37,"t":"pink","x":-0.866,"y":0.5},
{"r":38,"t":"pink","x":-0.991,"y":0.131},{"r":38,"t":"pink","x":-0.208,"y":-0.214},{"r":38,"t":"pink","x":0.16,"y":-0.987},{"r":38,"t":"pink","x":0.08,"y":-0.997},{"r":38,"t":"pink","x":-0.23,"y":-0.249},{"r":38,"t":"pink","x":-1,"y":0},
{"r":39,"t":"pink","x":-0.991,"y":-0.131},{"r":39,"t":"pink","x":-0.228,"y":-0.282},{"r":39,"t":"pink","x":0.08,"y":-0.997},{"r":39,"t":"pink","x":0,"y":-1},{"r":39,"t":"pink","x":-0.242,"y":-0.315},{"r":39,"t":"pink","x":-0.966,"y":-0.259}]},
"mark":{"type":"line","interpolate":"cardinal-closed","tension":0.3,"stroke":"black","strokeWidth":2.2},"encoding":{"x":{"field":"x","type":"quantitative","scale":{"domain":[-2.686,-0.683]},"axis":null},"y":{"field":"y","type":"quantitative","scale":{"domain":[-3.732,1.933]},"axis":null},"detail":{"field":"r"},"fill":{"field":"t","type":"nominal","scale":{"domain":["red","orange","lime","green","lgreen","cyan","blue","navy","purple","pink"],"range":["#e8211b","#f39619","#c3d92f","#6fb92b","#6bbd5e","#6fc7d7","#2a62ae","#2c459d","#85489b","#e8298a"]},"legend":null},"order":{"value":null}}},
{"data":{"name":"mask"},"mark":{"type":"line","interpolate":"linear-closed","fill":"white","strokeWidth":0},"encoding":{"x":{"field":"x","type":"quantitative","scale":{"domain":[-2.827,-0.719]},"axis":null},"y":{"field":"y","type":"quantitative","scale":{"domain":[-3.929,2.035]},"axis":null},"order":{"value":null}}},
{"data":{"name":"outer"},"mark":{"type":"line","interpolate":"linear-closed","fill":"white","strokeWidth":0},"encoding":{"x":{"field":"x","type":"quantitative","scale":{"domain":[-2.827,-0.719]},"axis":null},"y":{"field":"y","type":"quantitative","scale":{"domain":[-3.929,2.035]},"axis":null},"order":{"value":null}}},
{"data":{"values":[{"t":"red","x":0,"y":1},{"t":"red","x":0.16,"y":0.987},{"t":"red","x":0.317,"y":0.949},{"t":"red","x":0.465,"y":0.885},{"t":"red","x":0.516,"y":0.982},{"t":"red","x":0.352,"y":1.053},{"t":"red","x":0.178,"y":1.096},{"t":"red","x":0,"y":1.11},
{"t":"orange","x":0.465,"y":0.885},{"t":"orange","x":0.601,"y":0.8},{"t":"orange","x":0.721,"y":0.693},{"t":"orange","x":0.8,"y":0.769},{"t":"orange","x":0.667,"y":0.888},{"t":"orange","x":0.516,"y":0.982},
{"t":"lime","x":0.721,"y":0.693},{"t":"lime","x":0.823,"y":0.568},{"t":"lime","x":0.903,"y":0.429},{"t":"lime","x":1.002,"y":0.476},{"t":"lime","x":0.914,"y":0.63},{"t":"lime","x":0.8,"y":0.769},
{"t":"green","x":0.903,"y":0.429},{"t":"green","x":0.961,"y":0.278},{"t":"green","x":0.98,"y":0.2},{"t":"green","x":0.999,"y":0.04},{"t":"green","x":1.109,"y":0.044},{"t":"green","x":1.088,"y":0.222},{"t":"green","x":1.067,"y":0.309},{"t":"green","x":1.002,"y":0.476},
{"t":"lgreen","x":0.999,"y":0.04},{"t":"lgreen","x":0.993,"y":-0.12},{"t":"lgreen","x":0.961,"y":-0.278},{"t":"lgreen","x":1.067,"y":-0.309},{"t":"lgreen","x":1.102,"y":-0.133},{"t":"lgreen","x":1.109,"y":0.044},
{"t":"cyan","x":0.961,"y":-0.278},{"t":"cyan","x":0.903,"y":-0.429},{"t":"cyan","x":0.866,"y":-0.5},{"t":"cyan","x":0.961,"y":-0.555},{"t":"cyan","x":1.002,"y":-0.476},{"t":"cyan","x":1.067,"y":-0.309},
{"t":"blue","x":0.866,"y":-0.5},{"t":"blue","x":0.775,"y":-0.632},{"t":"blue","x":0.663,"y":-0.749},{"t":"blue","x":0.736,"y":-0.831},{"t":"blue","x":0.86,"y":-0.702},{"t":"blue","x":0.961,"y":-0.555},
{"t":"navy","x":0.663,"y":-0.749},{"t":"navy","x":0.534,"y":-0.845},{"t":"navy","x":0.465,"y":-0.885},{"t":"navy","x":0.516,"y":-0.982},{"t":"navy","x":0.593,"y":-0.938},{"t":"navy","x":0.736,"y":-0.831},
{"t":"purple","x":0.465,"y":-0.885},{"t":"purple","x":0.317,"y":-0.949},{"t":"purple","x":0.239,"y":-0.971},{"t":"purple","x":0.265,"y":-1.078},{"t":"purple","x":0.352,"y":-1.053},{"t":"purple","x":0.516,"y":-0.982},
{"t":"pink","x":0.239,"y":-0.971},{"t":"pink","x":0.08,"y":-0.997},{"t":"pink","x":0,"y":-1},{"t":"pink","x":0,"y":-1.11},{"t":"pink","x":0.089,"y":-1.107},{"t":"pink","x":0.265,"y":-1.078}]},
"mark":{"type":"line","interpolate":"linear-closed","stroke":"black","strokeWidth":2.5},"encoding":{"x":{"field":"x","type":"quantitative","scale":{"domain":[-2.827,-0.719]},"axis":null},"y":{"field":"y","type":"quantitative","scale":{"domain":[-3.929,2.035]},"axis":null},"fill":{"field":"t","type":"nominal","scale":{"domain":["red","orange","lime","green","lgreen","cyan","blue","navy","purple","pink"],"range":["#e0785f","#e2a866","#c1cf7c","#93bb6e","#92c18e","#97c6cc","#6d82b6","#6a7db4","#9f7fb0","#dd78a8"]},"legend":null},"order":{"value":null}}},
{"data":{"values":[{"g":"PRDX1","l":0.03,"x":0,"y":-1.06},{"g":"PRDX1","l":0.03,"x":-0.139,"y":-1.051},{"g":"PRDX1","l":0.03,"x":-0.275,"y":-1.024},{"g":"PRDX1","l":0.03,"x":-0.287,"y":-1.072},{"g":"PRDX1","l":0.03,"x":-0.145,"y":-1.1},{"g":"PRDX1","l":0.03,"x":0,"y":-1.11},
{"g":"SAMM50","l":0.03,"x":-0.275,"y":-1.024},{"g":"SAMM50","l":0.03,"x":-0.406,"y":-0.979},{"g":"SAMM50","l":0.03,"x":-0.53,"y":-0.918},{"g":"SAMM50","l":0.03,"x":-0.555,"y":-0.961},{"g":"SAMM50","l":0.03,"x":-0.425,"y":-1.026},{"g":"SAMM50","l":0.03,"x":-0.287,"y":-1.072},
{"g":"FLNB","l":0.06,"x":-0.53,"y":-0.918},{"g":"FLNB","l":0.06,"x":-0.646,"y":-0.841},{"g":"FLNB","l":0.06,"x":-0.749,"y":-0.749},{"g":"FLNB","l":0.06,"x":-0.785,"y":-0.785},{"g":"FLNB","l":0.06,"x":-0.676,"y":-0.88},{"g":"FLNB","l":0.06,"x":-0.555,"y":-0.961},
{"g":"MRPS17","l":0.07,"x":-0.749,"y":-0.749},{"g":"MRPS17","l":0.07,"x":-0.841,"y":-0.646},{"g":"MRPS17","l":0.07,"x":-0.918,"y":-0.53},{"g":"MRPS17","l":0.07,"x":-0.961,"y":-0.555},{"g":"MRPS17","l":0.07,"x":-0.88,"y":-0.676},{"g":"MRPS17","l":0.07,"x":-0.785,"y":-0.785},
{"g":"SLC2A1","l":0.08,"x":-0.918,"y":-0.53},{"g":"SLC2A1","l":0.08,"x":-0.979,"y":-0.406},{"g":"SLC2A1","l":0.08,"x":-1.024,"y":-0.275},{"g":"SLC2A1","l":0.08,"x":-1.072,"y":-0.287},{"g":"SLC2A1","l":0.08,"x":-1.026,"y":-0.425},{"g":"SLC2A1","l":0.08,"x":-0.961,"y":-0.555},
{"g":"NDUFA11","l":0.12,"x":-1.024,"y":-0.275},{"g":"NDUFA11","l":0.12,"x":-1.051,"y":-0.139},{"g":"NDUFA11","l":0.12,"x":-1.06,"y":0},{"g":"NDUFA11","l":0.12,"x":-1.11,"y":0},{"g":"NDUFA11","l":0.12,"x":-1.1,"y":-0.145},{"g":"NDUFA11","l":0.12,"x":-1.072,"y":-0.287},
{"g":"NDUFA10","l":0.12,"x":-1.06,"y":0},{"g":"NDUFA10","l":0.12,"x":-1.051,"y":0.139},{"g":"NDUFA10","l":0.12,"x":-1.024,"y":0.275},{"g":"NDUFA10","l":0.12,"x":-1.072,"y":0.287},{"g":"NDUFA10","l":0.12,"x":-1.1,"y":0.145},{"g":"NDUFA10","l":0.12,"x":-1.11,"y":0},
{"g":"ABI2","l":0.15,"x":-1.024,"y":0.275},{"g":"ABI2","l":0.15,"x":-0.979,"y":0.406},{"g":"ABI2","l":0.15,"x":-0.918,"y":0.53},{"g":"ABI2","l":0.15,"x":-0.961,"y":0.555},{"g":"ABI2","l":0.15,"x":-1.026,"y":0.425},{"g":"ABI2","l":0.15,"x":-1.072,"y":0.287},
{"g":"RAC1","l":0.47,"x":-0.918,"y":0.53},{"g":"RAC1","l":0.47,"x":-0.841,"y":0.646},{"g":"RAC1","l":0.47,"x":-0.749,"y":0.749},{"g":"RAC1","l":0.47,"x":-0.785,"y":0.785},{"g":"RAC1","l":0.47,"x":-0.88,"y":0.676},{"g":"RAC1","l":0.47,"x":-0.961,"y":0.555},
{"g":"ACTB","l":0.47,"x":-0.749,"y":0.749},{"g":"ACTB","l":0.47,"x":-0.646,"y":0.841},{"g":"ACTB","l":0.47,"x":-0.53,"y":0.918},{"g":"ACTB","l":0.47,"x":-0.555,"y":0.961},{"g":"ACTB","l":0.47,"x":-0.676,"y":0.88},{"g":"ACTB","l":0.47,"x":-0.785,"y":0.785},
{"g":"IQGAP1","l":0.75,"x":-0.53,"y":0.918},{"g":"IQGAP1","l":0.75,"x":-0.406,"y":0.979},{"g":"IQGAP1","l":0.75,"x":-0.275,"y":1.024},{"g":"IQGAP1","l":0.75,"x":-0.287,"y":1.072},{"g":"IQGAP1","l":0.75,"x":-0.425,"y":1.026},{"g":"IQGAP1","l":0.75,"x":-0.555,"y":0.961},
{"g":"DBN1","l":1,"x":-0.275,"y":1.024},{"g":"DBN1","l":1,"x":-0.139,"y":1.051},{"g":"DBN1","l":1,"x":0,"y":1.06},{"g":"DBN1","l":1,"x":0,"y":1.11},{"g":"DBN1","l":1,"x":-0.145,"y":1.1},{"g":"DBN1","l":1,"x":-0.287,"y":1.072}]},
"mark":{"type":"line","interpolate":"linear-closed","stroke":"black","strokeWidth":2},"encoding":{"x":{"field":"x","type":"quantitative","scale":{"domain":[-2.827,-0.719]},"axis":null},"y":{"field":"y","type":"quantitative","scale":{"domain":[-3.929,2.035]},"axis":null},"detail":{"field":"g"},"fill":{"field":"l","type":"quantitative","scale":{"domain":[0,0.35,1],"range":["#6a5bad","#ffffff","#e41a1c"]},"legend":null},"order":{"value":null}}},
{"data":{"values":[{"x":1098.7,"y":525,"t":"red"},{"x":1098.7,"y":549.6,"t":"lgreen"},{"x":1098.7,"y":579.5,"t":"purple"},{"x":1098.7,"y":616.7,"t":"orange"},{"x":1101.7,"y":648,"t":"navy"},{"x":1404,"y":525,"t":"lime"},{"x":1404,"y":557,"t":"blue"},{"x":1404,"y":584.6,"t":"cyan"},{"x":1404,"y":624.8,"t":"pink"},{"x":1404,"y":651,"t":"green"}]},"mark":{"type":"point","shape":"square","filled":true,"size":380,"opacity":1},"encoding":{"fill":{"field":"t","type":"nominal","scale":{"domain":["red","orange","lime","green","lgreen","cyan","blue","navy","purple","pink"],"range":["#e8211b","#f39619","#c3d92f","#6fb92b","#6bbd5e","#6fc7d7","#2a62ae","#2c459d","#85489b","#e8298a"]},"legend":null}}},
{"data":{"values":[{"label":"cell cortex","x":1119.8,"y":518},{"label":"lamellipodium","x":1119.8,"y":547},{"label":"pigment granule","x":1119.8,"y":578},{"label":"cortical cytoskeleton","x":1121.6,"y":614.5},{"label":"melanosome","x":1122.8,"y":645},{"label":"actin filament","x":1431.6,"y":519},{"label":"mitochondrial protein−containing complex","x":1431.6,"y":547},{"label":"cortical actin cytoskeleton","x":1431.6,"y":582.5},{"label":"oxidoreductase complex","x":1433,"y":614.5},{"label":"cell leading edge","x":1431.6,"y":645}]},"mark":{"type":"text","align":"left","baseline":"middle","fontSize":23.8},"encoding":{"text":{"field":"label"}}},
{"data":{"values":[{"label":"DBN1","x":1406,"y":75,"a":90},{"label":"IQGAP1","x":1299,"y":88,"a":66},{"label":"ACTB","x":1218,"y":118,"a":46},{"label":"RAC1","x":1147.5,"y":153,"a":33},{"label":"ABI2","x":1109.5,"y":184,"a":25},{"label":"NDUFA10","x":1043,"y":229,"a":11},{"label":"NDUFA11","x":1051,"y":284,"a":-10},{"label":"SLC2A1","x":1085.5,"y":329,"a":-23},{"label":"MRPS17","x":1124.6,"y":377,"a":-35},{"label":"FLNB","x":1200,"y":395,"a":-46},{"label":"SAMM50","x":1280,"y":423,"a":-60},{"label":"PRDX1","x":1373,"y":436,"a":-90}]},"mark":{"type":"text","align":"center","baseline":"middle","fontSize":25},"encoding":{"text":{"field":"label"},"angle":{"field":"a","type":"quantitative","scale":null}}},
{"data":{"values":[{"label":"GO−Cellular Component","x":1371.4,"y":17},{"label":"GO Terms","x":1516,"y":451}]},"mark":{"type":"text","align":"center","baseline":"middle","fontSize":32},"encoding":{"text":{"field":"label"}}},
{"data":{"values":[{"label":"B","x":974,"y":28}]},"mark":{"type":"text","align":"center","baseline":"middle","fontSize":46,"fontWeight":"bold","font":"DejaVu Sans"},"encoding":{"text":{"field":"label"}}},
{"data":{"values":[{"label":"logFC","x":1159.5,"y":451},{"label":"0","x":1093,"y":488},{"label":"1","x":1212,"y":488}]},"mark":{"type":"text","align":"center","baseline":"middle","fontSize":21},"encoding":{"text":{"field":"label"}}},
{"data":{"values":[{"x":1089.7,"x2":1207.7,"y":466,"y2":484}]},"mark":{"type":"rect","color":{"gradient":"linear","x1":0,"y1":0,"x2":1,"y2":0,"stops":[{"offset":0,"color":"#6a5bad"},{"offset":0.35,"color":"#ffffff"},{"offset":1,"color":"#e41a1c"}]}},"encoding":{"x2":{"field":"x2"},"y2":{"field":"y2"}}}
]},
{"width":43,"height":1,"data":{"name":"blank"},"mark":"text","encoding":{}},
{"width":147.6,"height":1,"data":{"name":"blank"},"mark":"text","encoding":{}},
{"width":365,"height":1,"data":{"name":"blank"},"mark":"text","encoding":{}},
{"width":623.7,"height":774.2,"resolve":{"scale":{"x":"independent","y":"independent","fill":"independent"}},"encoding":{"x":{"field":"x","type":"quantitative","scale":{"domain":[0,623.7]},"axis":null},"y":{"field":"y","type":"quantitative","scale":{"domain":[1546.7,772.5]},"axis":null}},"layer":[
{"data":{"values":[{"r":1,"t":"red","x":0,"y":1},{"r":1,"t":"red","x":0,"y":0.5},{"r":1,"t":"red","x":0,"y":1},{"r":1,"t":"red","x":0.136,"y":0.991},{"r":1,"t":"red","x":0.018,"y":0.497},{"r":1,"t":"red","x":-0.064,"y":0.998},
{"r":2,"t":"red","x":-0.975,"y":-0.223},{"r":2,"t":"red","x":-0.21,"y":0.192},{"r":2,"t":"red","x":0.136,"y":0.991},{"r":2,"t":"red","x":0.27,"y":0.963},{"r":2,"t":"red","x":-0.172,"y":0.17},{"r":2,"t":"red","x":-0.959,"y":-0.285},
{"r":3,"t":"orange","x":-0.434,"y":0.901},{"r":3,"t":"orange","x":-0.041,"y":0.466},{"r":3,"t":"orange","x":0.27,"y":0.963},{"r":3,"t":"orange","x":0.398,"y":0.917},{"r":3,"t":"orange","x":-0.056,"y":0.425},{"r":3,"t":"orange","x":-0.623,"y":0.782},
{"r":4,"t":"orange","x":-0.782,"y":0.624},{"r":4,"t":"orange","x":-0.096,"y":0.385},{"r":4,"t":"orange","x":0.398,"y":0.917},{"r":4,"t":"orange","x":0.52,"y":0.855},{"r":4,"t":"orange","x":-0.087,"y":0.339},{"r":4,"t":"orange","x":-0.866,"y":0.5},
{"r":5,"t":"orange","x":-0.782,"y":-0.624},{"r":5,"t":"orange","x":-0.066,"y":0.058},{"r":5,"t":"orange","x":0.52,"y":0.855},{"r":5,"t":"orange","x":0.631,"y":0.776},{"r":5,"t":"orange","x":0.002,"y":-0.002},{"r":5,"t":"orange","x":-0.624,"y":-0.782},
{"r":6,"t":"orange","x":-0.434,"y":-0.901},{"r":6,"t":"orange","x":0.049,"y":-0.031},{"r":6,"t":"orange","x":0.631,"y":0.776},{"r":6,"t":"orange","x":0.731,"y":0.682},{"r":6,"t":"orange","x":0.183,"y":-0.08},{"r":6,"t":"orange","x":0,"y":-1},
{"r":7,"t":"lime","x":-0.064,"y":0.998},{"r":7,"t":"lime","x":0.167,"y":0.42},{"r":7,"t":"lime","x":0.731,"y":0.682},{"r":7,"t":"lime","x":0.817,"y":0.577},{"r":7,"t":"lime","x":0.172,"y":0.392},{"r":7,"t":"lime","x":-0.128,"y":0.992},
{"r":8,"t":"lime","x":-0.959,"y":-0.285},{"r":8,"t":"lime","x":-0.036,"y":0.073},{"r":8,"t":"lime","x":0.817,"y":0.577},{"r":8,"t":"lime","x":0.888,"y":0.46},{"r":8,"t":"lime","x":-0.013,"y":0.029},{"r":8,"t":"lime","x":-0.938,"y":-0.345},
{"r":9,"t":"green","x":-0.128,"y":0.992},{"r":9,"t":"green","x":0.19,"y":0.363},{"r":9,"t":"green","x":0.888,"y":0.46},{"r":9,"t":"green","x":0.942,"y":0.335},{"r":9,"t":"green","x":0.188,"y":0.329},{"r":9,"t":"green","x":-0.191,"y":0.982},
{"r":10,"t":"green","x":-0.938,"y":-0.345},{"r":10,"t":"green","x":0.001,"y":-0.003},{"r":10,"t":"green","x":0.942,"y":0.335},{"r":10,"t":"green","x":0.979,"y":0.203},{"r":10,"t":"green","x":0.016,"y":-0.051},{"r":10,"t":"green","x":-0.914,"y":-0.405},
{"r":11,"t":"lgreen","x":-0.191,"y":0.982},{"r":11,"t":"lgreen","x":0.197,"y":0.296},{"r":11,"t":"lgreen","x":0.979,"y":0.203},{"r":11,"t":"lgreen","x":0.998,"y":0.068},{"r":11,"t":"lgreen","x":0.186,"y":0.259},{"r":11,"t":"lgreen","x":-0.254,"y":0.967},
{"r":12,"t":"lgreen","x":-0.914,"y":-0.405},{"r":12,"t":"lgreen","x":0.021,"y":-0.084},{"r":12,"t":"lgreen","x":0.998,"y":0.068},{"r":12,"t":"lgreen","x":0.998,"y":-0.068},{"r":12,"t":"lgreen","x":0.028,"y":-0.133},{"r":12,"t":"lgreen","x":-0.887,"y":-0.462},
{"r":13,"t":"cyan","x":-0.254,"y":0.967},{"r":13,"t":"cyan","x":0.186,"y":0.225},{"r":13,"t":"cyan","x":0.998,"y":-0.068},{"r":13,"t":"cyan","x":0.979,"y":-0.203},{"r":13,"t":"cyan","x":0.166,"y":0.187},{"r":13,"t":"cyan","x":-0.315,"y":0.949},
{"r":14,"t":"cyan","x":-0.887,"y":-0.462},{"r":14,"t":"cyan","x":0.023,"y":-0.166},{"r":14,"t":"cyan","x":0.979,"y":-0.203},{"r":14,"t":"cyan","x":0.942,"y":-0.335},{"r":14,"t":"cyan","x":0.022,"y":-0.213},{"r":14,"t":"cyan","x":-0.855,"y":-0.518},
{"r":15,"t":"blue","x":-0.315,"y":0.949},{"r":15,"t":"blue","x":0.157,"y":0.154},{"r":15,"t":"blue","x":0.942,"y":-0.335},{"r":15,"t":"blue","x":0.888,"y":-0.46},{"r":15,"t":"blue","x":0.128,"y":0.117},{"r":15,"t":"blue","x":-0.375,"y":0.927},
{"r":16,"t":"blue","x":-0.855,"y":-0.518},{"r":16,"t":"blue","x":0.008,"y":-0.245},{"r":16,"t":"blue","x":0.888,"y":-0.46},{"r":16,"t":"blue","x":0.817,"y":-0.577},{"r":16,"t":"blue","x":-0.001,"y":-0.287},{"r":16,"t":"blue","x":-0.82,"y":-0.572},
{"r":17,"t":"navy","x":-0.375,"y":0.927},{"r":17,"t":"navy","x":0.111,"y":0.088},{"r":17,"t":"navy","x":0.817,"y":-0.577},{"r":17,"t":"navy","x":0.731,"y":-0.682},{"r":17,"t":"navy","x":0.074,"y":0.055},{"r":17,"t":"navy","x":-0.434,"y":0.901},
{"r":18,"t":"navy","x":-0.82,"y":-0.572},{"r":18,"t":"navy","x":-0.022,"y":-0.314},{"r":18,"t":"navy","x":0.731,"y":-0.682},{"r":18,"t":"navy","x":0.631,"y":-0.776},{"r":18,"t":"navy","x":-0.038,"y":-0.35},{"r":18,"t":"navy","x":-0.782,"y":-0.624},
{"r":19,"t":"purple","x":-0.623,"y":0.782},{"r":19,"t":"purple","x":0.002,"y":0.002},{"r":19,"t":"purple","x":0.631,"y":-0.776},{"r":19,"t":"purple","x":0.52,"y":-0.855},{"r":19,"t":"purple","x":-0.066,"y":-0.058},{"r":19,"t":"purple","x":-0.782,"y":0.624},
{"r":20,"t":"purple","x":-0.866,"y":0.5},{"r":20,"t":"purple","x":-0.087,"y":-0.089},{"r":20,"t":"purple","x":0.52,"y":-0.855},{"r":20,"t":"purple","x":0.398,"y":-0.917},{"r":20,"t":"purple","x":-0.133,"y":-0.138},{"r":20,"t":"purple","x":-0.931,"y":0.365},
{"r":21,"t":"purple","x":-0.624,"y":-0.782},{"r":21,"t":"purple","x":-0.057,"y":-0.425},{"r":21,"t":"purple","x":0.398,"y":-0.917},{"r":21,"t":"purple","x":0.27,"y":-0.963},{"r":21,"t":"purple","x":-0.041,"y":-0.466},{"r":21,"t":"purple","x":-0.434,"y":-0.901},
{"r":22,"t":"pink","x":-0.931,"y":0.365},{"r":22,"t":"pink","x":-0.165,"y":-0.15},{"r":22,"t":"pink","x":0.27,"y":-0.963},{"r":22,"t":"pink","x":0.136,"y":-0.991},{"r":22,"t":"pink","x":-0.21,"y":-0.192},{"r":22,"t":"pink","x":-0.975,"y":0.223},
{"r":23,"t":"pink","x":-0.975,"y":0.223},{"r":23,"t":"pink","x":-0.21,"y":-0.192},{"r":23,"t":"pink","x":0.136,"y":-0.991},{"r":23,"t":"pink","x":0,"y":-1},{"r":23,"t":"pink","x":-0.244,"y":-0.306},{"r":23,"t":"pink","x":-0.975,"y":-0.223}]},
"mark":{"type":"line","interpolate":"cardinal-closed","tension":0.3,"stroke":"black","strokeWidth":1.6},"encoding":{"x":{"field":"x","type":"quantitative","scale":{"domain":[-1.4,0.7235]},"axis":null},"y":{"field":"y","type":"quantitative","scale":{"domain":[-4.414,1.673]},"axis":null},"detail":{"field":"r"},"fill":{"field":"t","type":"nominal","scale":{"domain":["red","orange","lime","green","lgreen","cyan","blue","navy","purple","pink"],"range":["#e8211b","#f39619","#c3d92f","#6fb92b","#6bbd5e","#6fc7d7","#2a62ae","#2c459d","#85489b","#e8298a"]},"legend":null},"order":{"value":null}}},
{"data":{"name":"mask"},"mark":{"type":"line","interpolate":"linear-closed","fill":"white","strokeWidth":0},"encoding":{"x":{"field":"x","type":"quantitative","scale":{"domain":[-1.474,0.762]},"axis":null},"y":{"field":"y","type":"quantitative","scale":{"domain":[-4.647,1.762]},"axis":null},"order":{"value":null}}},
{"data":{"name":"outer"},"mark":{"type":"line","interpolate":"linear-closed","fill":"white","strokeWidth":0},"encoding":{"x":{"field":"x","type":"quantitative","scale":{"domain":[-1.474,0.762]},"axis":null},"y":{"field":"y","type":"quantitative","scale":{"domain":[-4.647,1.762]},"axis":null},"order":{"value":null}}},
{"data":{"values":[{"t":"red","x":0,"y":1},{"t":"red","x":0.136,"y":0.991},{"t":"red","x":0.27,"y":0.963},{"t":"red","x":0.3,"y":1.069},{"t":"red","x":0.151,"y":1.1},{"t":"red","x":0,"y":1.11},
{"t":"orange","x":0.27,"y":0.963},{"t":"orange","x":0.398,"y":0.917},{"t":"orange","x":0.52,"y":0.855},{"t":"orange","x":0.631,"y":0.776},{"t":"orange","x":0.731,"y":0.682},{"t":"orange","x":0.811,"y":0.757},{"t":"orange","x":0.7,"y":0.861},{"t":"orange","x":0.577,"y":0.949},{"t":"orange","x":0.442,"y":1.018},{"t":"orange","x":0.3,"y":1.069},
{"t":"lime","x":0.731,"y":0.682},{"t":"lime","x":0.817,"y":0.577},{"t":"lime","x":0.888,"y":0.46},{"t":"lime","x":0.986,"y":0.511},{"t":"lime","x":0.907,"y":0.64},{"t":"lime","x":0.811,"y":0.757},
{"t":"green","x":0.888,"y":0.46},{"t":"green","x":0.942,"y":0.335},{"t":"green","x":0.979,"y":0.203},{"t":"green","x":1.087,"y":0.225},{"t":"green","x":1.046,"y":0.372},{"t":"green","x":0.986,"y":0.511},
{"t":"lgreen","x":0.979,"y":0.203},{"t":"lgreen","x":0.998,"y":0.068},{"t":"lgreen","x":0.998,"y":-0.068},{"t":"lgreen","x":1.108,"y":-0.075},{"t":"lgreen","x":1.108,"y":0.075},{"t":"lgreen","x":1.087,"y":0.225},
{"t":"cyan","x":0.998,"y":-0.068},{"t":"cyan","x":0.979,"y":-0.203},{"t":"cyan","x":0.942,"y":-0.335},{"t":"cyan","x":1.046,"y":-0.372},{"t":"cyan","x":1.087,"y":-0.225},{"t":"cyan","x":1.108,"y":-0.075},
{"t":"blue","x":0.942,"y":-0.335},{"t":"blue","x":0.888,"y":-0.46},{"t":"blue","x":0.817,"y":-0.577},{"t":"blue","x":0.907,"y":-0.64},{"t":"blue","x":0.986,"y":-0.511},{"t":"blue","x":1.046,"y":-0.372},
{"t":"navy","x":0.817,"y":-0.577},{"t":"navy","x":0.731,"y":-0.682},{"t":"navy","x":0.631,"y":-0.776},{"t":"navy","x":0.7,"y":-0.861},{"t":"navy","x":0.811,"y":-0.757},{"t":"navy","x":0.907,"y":-0.64},
{"t":"purple","x":0.631,"y":-0.776},{"t":"purple","x":0.52,"y":-0.855},{"t":"purple","x":0.398,"y":-0.917},{"t":"purple","x":0.27,"y":-0.963},{"t":"purple","x":0.3,"y":-1.069},{"t":"purple","x":0.442,"y":-1.018},{"t":"purple","x":0.577,"y":-0.949},{"t":"purple","x":0.7,"y":-0.861},
{"t":"pink","x":0.27,"y":-0.963},{"t":"pink","x":0.136,"y":-0.991},{"t":"pink","x":0,"y":-1},{"t":"pink","x":0,"y":-1.11},{"t":"pink","x":0.151,"y":-1.1},{"t":"pink","x":0.3,"y":-1.069}]},
"mark":{"type":"line","interpolate":"linear-closed","stroke":"black","strokeWidth":1.8},"encoding":{"x":{"field":"x","type":"quantitative","scale":{"domain":[-1.474,0.762]},"axis":null},"y":{"field":"y","type":"quantitative","scale":{"domain":[-4.647,1.762]},"axis":null},"fill":{"field":"t","type":"nominal","scale":{"domain":["red","orange","lime","green","lgreen","cyan","blue","navy","purple","pink"],"range":["#e0785f","#e2a866","#c1cf7c","#93bb6e","#92c18e","#97c6cc","#6d82b6","#6a7db4","#9f7fb0","#dd78a8"]},"legend":null},"order":{"value":null}}},
{"data":{"values":[{"g":"PRDX1","l":0.08,"x":0,"y":-1.06},{"g":"PRDX1","l":0.08,"x":-0.158,"y":-1.048},{"g":"PRDX1","l":0.08,"x":-0.313,"y":-1.013},{"g":"PRDX1","l":0.08,"x":-0.46,"y":-0.955},{"g":"PRDX1","l":0.08,"x":-0.482,"y":-1},{"g":"PRDX1","l":0.08,"x":-0.327,"y":-1.061},{"g":"PRDX1","l":0.08,"x":-0.165,"y":-1.098},{"g":"PRDX1","l":0.08,"x":0,"y":-1.11},
{"g":"FLNB","l":0.15,"x":-0.46,"y":-0.955},{"g":"FLNB","l":0.15,"x":-0.597,"y":-0.876},{"g":"FLNB","l":0.15,"x":-0.721,"y":-0.777},{"g":"FLNB","l":0.15,"x":-0.829,"y":-0.661},{"g":"FLNB","l":0.15,"x":-0.868,"y":-0.693},{"g":"FLNB","l":0.15,"x":-0.755,"y":-0.814},{"g":"FLNB","l":0.15,"x":-0.625,"y":-0.917},{"g":"FLNB","l":0.15,"x":-0.482,"y":-1},
{"g":"SLC2A1","l":0.2,"x":-0.829,"y":-0.661},{"g":"SLC2A1","l":0.2,"x":-0.918,"y":-0.53},{"g":"SLC2A1","l":0.2,"x":-0.987,"y":-0.387},{"g":"SLC2A1","l":0.2,"x":-1.034,"y":-0.236},{"g":"SLC2A1","l":0.2,"x":-1.082,"y":-0.248},{"g":"SLC2A1","l":0.2,"x":-1.033,"y":-0.405},{"g":"SLC2A1","l":0.2,"x":-0.961,"y":-0.555},{"g":"SLC2A1","l":0.2,"x":-0.868,"y":-0.693},
{"g":"ABI2","l":0.24,"x":-1.034,"y":-0.236},{"g":"ABI2","l":0.24,"x":-1.057,"y":-0.08},{"g":"ABI2","l":0.24,"x":-1.057,"y":0.08},{"g":"ABI2","l":0.24,"x":-1.034,"y":0.236},{"g":"ABI2","l":0.24,"x":-1.082,"y":0.248},{"g":"ABI2","l":0.24,"x":-1.107,"y":0.083},{"g":"ABI2","l":0.24,"x":-1.107,"y":-0.083},{"g":"ABI2","l":0.24,"x":-1.082,"y":-0.248},
{"g":"IQGAP1","l":0.7,"x":-1.034,"y":0.236},{"g":"IQGAP1","l":0.7,"x":-0.987,"y":0.387},{"g":"IQGAP1","l":0.7,"x":-0.918,"y":0.53},{"g":"IQGAP1","l":0.7,"x":-0.829,"y":0.661},{"g":"IQGAP1","l":0.7,"x":-0.868,"y":0.693},{"g":"IQGAP1","l":0.7,"x":-0.961,"y":0.555},{"g":"IQGAP1","l":0.7,"x":-1.033,"y":0.405},{"g":"IQGAP1","l":0.7,"x":-1.082,"y":0.248},
{"g":"DBN1","l":0.82,"x":-0.829,"y":0.661},{"g":"DBN1","l":0.82,"x":-0.721,"y":0.777},{"g":"DBN1","l":0.82,"x":-0.597,"y":0.876},{"g":"DBN1","l":0.82,"x":-0.46,"y":0.955},{"g":"DBN1","l":0.82,"x":-0.482,"y":1},{"g":"DBN1","l":0.82,"x":-0.625,"y":0.917},{"g":"DBN1","l":0.82,"x":-0.755,"y":0.814},{"g":"DBN1","l":0.82,"x":-0.868,"y":0.693},
{"g":"SLC2A3","l":1,"x":-0.46,"y":0.955},{"g":"SLC2A3","l":1,"x":-0.313,"y":1.013},{"g":"SLC2A3","l":1,"x":-0.158,"y":1.048},{"g":"SLC2A3","l":1,"x":0,"y":1.06},{"g":"SLC2A3","l":1,"x":0,"y":1.11},{"g":"SLC2A3","l":1,"x":-0.165,"y":1.098},{"g":"SLC2A3","l":1,"x":-0.327,"y":1.061},{"g":"SLC2A3","l":1,"x":-0.482,"y":1}]},
"mark":{"type":"line","interpolate":"linear-closed","stroke":"black","strokeWidth":1.6},"encoding":{"x":{"field":"x","type":"quantitative","scale":{"domain":[-1.474,0.762]},"axis":null},"y":{"field":"y","type":"quantitative","scale":{"domain":[-4.647,1.762]},"axis":null},"detail":{"field":"g"},"fill":{"field":"l","type":"quantitative","scale":{"domain":[0,0.35,1],"range":["#6a5bad","#ffffff","#e41a1c"]},"legend":null},"order":{"value":null}}},
{"data":{"values":[{"x":113,"y":1199,"t":"lgreen"},{"x":113,"y":1227,"t":"purple"},{"x":113,"y":1256,"t":"orange"},{"x":113,"y":1280,"t":"cyan"},{"x":110.3,"y":1305,"t":"red"},{"x":110.3,"y":1334,"t":"blue"},{"x":392.7,"y":1226,"t":"pink"},{"x":392.7,"y":1246.5,"t":"lime"},{"x":520.6,"y":1274,"t":"navy"},{"x":522,"y":1328,"t":"green"}]},"mark":{"type":"point","shape":"square","filled":true,"size":256,"opacity":1},"encoding":{"fill":{"field":"t","type":"nominal","scale":{"domain":["red","orange","lime","green","lgreen","cyan","blue","navy","purple","pink"],"range":["#e8211b","#f39619","#c3d92f","#6fb92b","#6bbd5e","#6fc7d7","#2a62ae","#2c459d","#85489b","#e8298a"]},"legend":null}}},
{"data":{"values":[{"label":"monosaccharide transmembrane transporter activity","x":131.5,"y":1195.5},{"label":"actin filament binding","x":131.5,"y":1223},{"label":"cadherin binding","x":131.5,"y":1252.6},{"label":"sugar transmembrane transporter activity","x":131.5,"y":1278},{"label":"D−glucose transmembrane transporter activity","x":122.4,"y":1305},{"label":"vitamin transmembrane transporter activity","x":122.4,"y":1331.4},{"label":"signaling adaptor activity","x":411,"y":1223},{"label":"glucose transmembrane transporter activity","x":408,"y":1241},{"label":"carbohydrate transmembrane transporter activity","x":539.4,"y":1270},{"label":"hexose transmembrane transporter activity","x":538,"y":1323}]},"mark":{"type":"text","align":"left","baseline":"middle","fontSize":18.8},"encoding":{"text":{"field":"label"}}},
{"data":{"values":[{"label":"SLC2A3","x":342,"y":817,"a":90},{"label":"DBN1","x":193,"y":863,"a":50},{"label":"IQGAP1","x":79,"y":916,"a":27},{"label":"ABI2","x":71,"y":980,"a":0},{"label":"SLC2A1","x":87,"y":1069,"a":-27},{"label":"FLNB","x":189,"y":1106,"a":-52},{"label":"PRDX1","x":327,"y":1144,"a":-90}]},"mark":{"type":"text","align":"center","baseline":"middle","fontSize":20},"encoding":{"text":{"field":"label"},"angle":{"field":"a","type":"quantitative","scale":null}}},
{"data":{"values":[{"label":"GO−Mollecular Function","x":364,"y":768},{"label":"GO Terms","x":442,"y":1163}]},"mark":{"type":"text","align":"center","baseline":"middle","fontSize":25},"encoding":{"text":{"field":"label"}}},
{"data":{"values":[{"label":"C","x":25.5,"y":760},{"label":"D","x":945,"y":760},{"label":"E","x":41.5,"y":1469}]},"mark":{"type":"text","align":"center","baseline":"middle","fontSize":46,"fontWeight":"bold","font":"DejaVu Sans"},"encoding":{"text":{"field":"label"}}},
{"data":{"values":[{"label":"logFC","x":731.5,"y":1164},{"label":"0","x":679,"y":1197},{"label":"1","x":774,"y":1197}]},"mark":{"type":"text","align":"center","baseline":"middle","fontSize":18},"encoding":{"text":{"field":"label"}}},
{"data":{"values":[{"x":676,"x2":770,"y":1178,"y2":1193.5}]},"mark":{"type":"rect","color":{"gradient":"linear","x1":0,"y1":0,"x2":1,"y2":0,"stops":[{"offset":0,"color":"#6a5bad"},{"offset":0.35,"color":"#ffffff"},{"offset":1,"color":"#e41a1c"}]}},"encoding":{"x2":{"field":"x2"},"y2":{"field":"y2"}}}
]},
{"width":1,"height":1,"data":{"name":"blank"},"mark":"text","encoding":{}},
{"width":1,"height":1,"data":{"name":"blank"},"mark":"text","encoding":{}},
{"width":1,"height":1,"data":{"name":"blank"},"mark":"text","encoding":{}},
{"width":365,"height":532,"view":{"stroke":"#444","strokeWidth":2},"layer":[
{"data":{"values":[{"v":0.5},{"v":1.5},{"v":2.5},{"v":3.5}]},"mark":{"type":"rule","color":"#f0f0f0","strokeWidth":1},"encoding":{"x":{"field":"v","type":"quantitative","scale":{"domain":[-0.2,4.2],"nice":false,"zero":false}}}},
{"data":{"values":[{"pathway":"Diabetic cardiomyopathy","Count":4,"p":0.0075},{"pathway":"Regulation of actin cytoskeleton","Count":4,"p":0.0075},{"pathway":"Adherens junction","Count":3,"p":0.0075},{"pathway":"Non−alcoholic fatty liver disease","Count":3,"p":0.0195},{"pathway":"Amyotrophic lateral sclerosis","Count":4,"p":0.0195},{"pathway":"Tight junction","Count":3,"p":0.0195},{"pathway":"Focal adhesion","Count":3,"p":0.0245},{"pathway":"Proteoglycans in cancer","Count":3,"p":0.0245},{"pathway":"Chemical carcinogenesis − reactive oxygen species","Count":3,"p":0.0285},{"pathway":"Thermogenesis","Count":3,"p":0.0285},{"pathway":"Viral myocarditis","Count":2,"p":0.0285},{"pathway":"Renal cell carcinoma","Count":2,"p":0.0285},{"pathway":"Bacterial invasion of epithelial cells","Count":2,"p":0.0305},{"pathway":"Prion disease","Count":3,"p":0.0335}]},"mark":{"type":"bar"},"encoding":{"y":{"field":"pathway","type":"nominal","sort":null,"scale":{"paddingInner":0.1,"paddingOuter":0.15},"axis":{"title":null,"labelFontSize":19.5,"labelLimit":0,"grid":true,"gridColor":"#ebebeb","gridWidth":2,"bandPosition":0.5,"domain":false,"tickColor":"#333","tickWidth":2,"tickSize":6,"labelPadding":4.5}},"x":{"field":"Count","type":"quantitative","scale":{"domain":[-0.2,4.2],"nice":false,"zero":false},"axis":{"values":[0,1,2,3,4],"format":"d","grid":true,"gridColor":"#ebebeb","gridWidth":2,"domain":false,"tickColor":"#333","tickWidth":2,"tickSize":6,"labelFontSize":24,"titleFontSize":24,"titleFontWeight":"normal","title":"Count","labelPadding":4,"titlePadding":13}},"x2":{"datum":0},"color":{"field":"p","type":"quantitative","title":"p.adjust","scale":{"domain":[0.0339,0.0285,0.0245,0.0195,0.0067],"range":["#1a4a9d","#71348f","#93298a","#c0147a","#e8211b"]},"legend":{"orient":"none","legendX":392,"legendY":141,"gradientLength":224,"gradientThickness":28,"values":[0.01,0.015,0.02,0.025,0.03],"format":".3f","titleFontSize":20,"titleFontWeight":"normal","labelFontSize":15.5,"titlePadding":12,"labelOffset":8}}}}
]},
{"width":623.7,"height":1,"data":{"name":"blank"},"mark":"text","encoding":{}},
{"width":609.3,"height":249,"title":{"text":"Enrichment Go Top10","anchor":"start","fontSize":32,"fontWeight":"normal","font":"Liberation Sans","offset":12,"frame":"group"},"view":{"stroke":"#444","strokeWidth":2},"layer":[
{"data":{"values":[{"v":0.15},{"v":0.25},{"v":0.35}]},"mark":{"type":"rule","color":"#f0f0f0","strokeWidth":1.5},"encoding":{"x":{"field":"v","type":"quantitative","scale":{"domain":[0.1125,0.3874],"nice":false,"zero":false}}}},
{"data":{"name":"enrich"},"transform":[{"filter":"datum.cat=='BP'"}],"mark":{"type":"point","filled":true,"opacity":1,"shape":"circle"},"encoding":{"x":{"field":"ratio","type":"quantitative","scale":{"domain":[0.1125,0.3874],"nice":false,"zero":false},"axis":{"values":[0.2,0.3],"labels":false,"ticks":false,"title":null,"domain":false,"grid":true,"gridColor":"#ebebeb","gridWidth":2}},"y":{"field":"term","type":"nominal","sort":null,"scale":{"type":"point","padding":0.6},"axis":{"title":null,"labelFontSize":19.7,"labelLimit":0,"grid":true,"gridColor":"#ebebeb","gridWidth":2,"domain":false,"tickColor":"#333","tickWidth":2,"tickSize":6,"labelPadding":7}},"size":{"field":"Count","type":"quantitative","scale":{"domain":[2,6],"range":[230,540]},"legend":{"orient":"none","legendX":693,"legendY":108,"values":[2,3,4,5,6],"title":"Count","titleFontSize":27,"titleFontWeight":"normal","labelFontSize":24,"symbolFillColor":"black","symbolStrokeColor":"black","symbolType":"circle","rowPadding":17,"titlePadding":18,"labelOffset":22,"symbolOffset":8}},"color":{"field":"p","type":"quantitative","title":"p.adjust","scale":{"domain":[0,0.012,0.0238],"range":["#e81f1c","#b8107f","#26479c"]},"legend":{"orient":"none","legendX":693,"legendY":417,"gradientLength":212,"gradientThickness":42,"values":[0.005,0.01,0.015,0.02],"format":".3f","titleFontSize":27,"titleFontWeight":"normal","labelFontSize":24,"titlePadding":12,"labelOffset":14}}}}
]},
{"width":43,"height":249,"view":{"fill":"#d9d9d9","stroke":"#444","strokeWidth":2},"data":{"values":[{"s":"BP"}]},"mark":{"type":"text","angle":90,"fontSize":21,"align":"center","baseline":"middle"},"encoding":{"text":{"field":"s"}}},
{"width":1,"height":1,"data":{"name":"blank"},"mark":"text","encoding":{}},
{"width":1,"height":1,"data":{"name":"blank"},"mark":"text","encoding":{}},
{"width":1,"height":1,"data":{"name":"blank"},"mark":"text","encoding":{}},
{"width":609.3,"height":249,"view":{"stroke":"#444","strokeWidth":2},"layer":[
{"data":{"values":[{"v":0.15},{"v":0.25},{"v":0.35}]},"mark":{"type":"rule","color":"#f0f0f0","strokeWidth":1.5},"encoding":{"x":{"field":"v","type":"quantitative","scale":{"domain":[0.1125,0.3874],"nice":false,"zero":false}}}},
{"data":{"name":"enrich"},"transform":[{"filter":"datum.cat=='CC'"}],"mark":{"type":"point","filled":true,"opacity":1,"shape":"circle"},"encoding":{"x":{"field":"ratio","type":"quantitative","scale":{"domain":[0.1125,0.3874],"nice":false,"zero":false},"axis":{"values":[0.2,0.3],"labels":false,"ticks":false,"title":null,"domain":false,"grid":true,"gridColor":"#ebebeb","gridWidth":2}},"y":{"field":"term","type":"nominal","sort":null,"scale":{"type":"point","padding":0.6},"axis":{"title":null,"labelFontSize":19.7,"labelLimit":0,"grid":true,"gridColor":"#ebebeb","gridWidth":2,"domain":false,"tickColor":"#333","tickWidth":2,"tickSize":6,"labelPadding":7}},"size":{"field":"Count","type":"quantitative","scale":{"domain":[2,6],"range":[230,540]},"legend":null},"color":{"field":"p","type":"quantitative","scale":{"domain":[0,0.012,0.0238],"range":["#e81f1c","#b8107f","#26479c"]},"legend":null}}}
]},
{"width":43,"height":249,"view":{"fill":"#d9d9d9","stroke":"#444","strokeWidth":2},"data":{"values":[{"s":"CC"}]},"mark":{"type":"text","angle":90,"fontSize":21,"align":"center","baseline":"middle"},"encoding":{"text":{"field":"s"}}},
{"width":1,"height":1,"data":{"name":"blank"},"mark":"text","encoding":{}},
{"width":1,"height":1,"data":{"name":"blank"},"mark":"text","encoding":{}},
{"width":1,"height":1,"data":{"name":"blank"},"mark":"text","encoding":{}},
{"width":609.3,"height":249,"view":{"stroke":"#444","strokeWidth":2},"layer":[
{"data":{"values":[{"v":0.15},{"v":0.25},{"v":0.35}]},"mark":{"type":"rule","color":"#f0f0f0","strokeWidth":1.5},"encoding":{"x":{"field":"v","type":"quantitative","scale":{"domain":[0.1125,0.3874],"nice":false,"zero":false}}}},
{"data":{"name":"enrich"},"transform":[{"filter":"datum.cat=='MF'"}],"mark":{"type":"point","filled":true,"opacity":1,"shape":"circle"},"encoding":{"x":{"field":"ratio","type":"quantitative","scale":{"domain":[0.1125,0.3874],"nice":false,"zero":false},"axis":{"values":[0.2,0.3],"format":".1f","title":"GeneRatio","titleFontSize":18,"titleFontWeight":"normal","labelFontSize":18,"domain":false,"grid":true,"gridColor":"#ebebeb","gridWidth":2,"tickColor":"#333","tickWidth":2,"tickSize":6,"titlePadding":10}},"y":{"field":"term","type":"nominal","sort":null,"scale":{"type":"point","padding":0.6},"axis":{"title":null,"labelFontSize":19.7,"labelLimit":0,"grid":true,"gridColor":"#ebebeb","gridWidth":2,"domain":false,"tickColor":"#333","tickWidth":2,"tickSize":6,"labelPadding":7}},"size":{"field":"Count","type":"quantitative","scale":{"domain":[2,6],"range":[230,540]},"legend":null},"color":{"field":"p","type":"quantitative","scale":{"domain":[0,0.012,0.0238],"range":["#e81f1c","#b8107f","#26479c"]},"legend":null}}}
]},
{"width":43,"height":249,"view":{"fill":"#d9d9d9","stroke":"#444","strokeWidth":2},"data":{"values":[{"s":"MF"}]},"mark":{"type":"text","angle":90,"fontSize":21,"align":"center","baseline":"middle"},"encoding":{"text":{"field":"s"}}}
]}
